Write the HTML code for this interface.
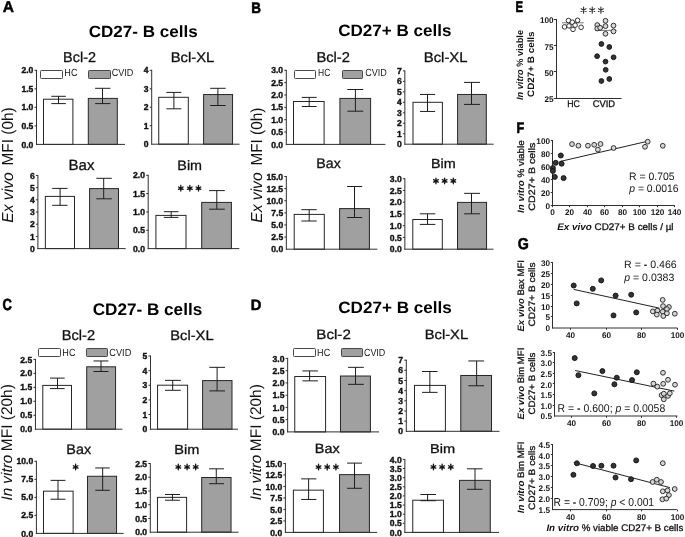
<!DOCTYPE html>
<html><head><meta charset="utf-8"><style>
html,body{margin:0;padding:0;background:#fff;width:685px;height:537px;overflow:hidden;font-family:"Liberation Sans", sans-serif;}
</style></head><body>
<svg width="685" height="537" viewBox="0 0 685 537" style="display:block;will-change:transform;text-rendering:geometricPrecision;font-family:'Liberation Sans', sans-serif">
<rect width="685" height="537" fill="#fff"/>
<text x="2.71" y="12.40" font-size="15.65" fill="#000" textLength="11.21" lengthAdjust="spacingAndGlyphs"><tspan font-weight="bold" font-style="normal" stroke="#000" stroke-width="0.45">A</tspan></text>
<text x="88.72" y="36.80" font-size="16.28" fill="#000" textLength="109.09" lengthAdjust="spacingAndGlyphs"><tspan font-weight="bold" font-style="normal">CD27-&#160;B&#160;cells</tspan></text>
<text transform="translate(13.00,222.77) rotate(-90)" x="0" y="0" font-size="15.94" fill="#111" textLength="50.43" lengthAdjust="spacingAndGlyphs"><tspan font-weight="normal" font-style="italic">Ex&#160;vivo</tspan></text>
<text transform="translate(13.00,165.46) rotate(-90)" x="0" y="0" font-size="15.94" fill="#111" textLength="58.07" lengthAdjust="spacingAndGlyphs"><tspan font-weight="normal" font-style="normal">MFI&#160;(0h)</tspan></text>
<rect x="40.50" y="70.50" width="22.00" height="8.00" rx="0.8" fill="#fff" stroke="#484848" stroke-width="1"/>
<rect x="88.50" y="70.50" width="22.00" height="8.00" rx="0.8" fill="#a0a0a0" stroke="#484848" stroke-width="1"/>
<text x="64.37" y="76.30" font-size="10.30" fill="#1a1a1a" textLength="13.13" lengthAdjust="spacingAndGlyphs"><tspan font-weight="normal" font-style="normal">HC</tspan></text>
<text x="111.65" y="76.30" font-size="10.30" fill="#1a1a1a" textLength="21.70" lengthAdjust="spacingAndGlyphs"><tspan font-weight="normal" font-style="normal">CVID</tspan></text>
<text transform="translate(33.30,147.50) scale(0.985,1)" font-size="8.7" font-weight="bold" text-anchor="end" fill="#111" stroke="#111" stroke-width="0.4">0.0</text>
<line x1="34.50" y1="125.88" x2="36.50" y2="125.88" stroke="#303030" stroke-width="1"/>
<text transform="translate(33.30,128.97) scale(0.985,1)" font-size="8.7" font-weight="bold" text-anchor="end" fill="#111" stroke="#111" stroke-width="0.4">0.5</text>
<line x1="34.50" y1="107.35" x2="36.50" y2="107.35" stroke="#303030" stroke-width="1"/>
<text transform="translate(33.30,110.45) scale(0.985,1)" font-size="8.7" font-weight="bold" text-anchor="end" fill="#111" stroke="#111" stroke-width="0.4">1.0</text>
<line x1="34.50" y1="88.83" x2="36.50" y2="88.83" stroke="#303030" stroke-width="1"/>
<text transform="translate(33.30,91.92) scale(0.985,1)" font-size="8.7" font-weight="bold" text-anchor="end" fill="#111" stroke="#111" stroke-width="0.4">1.5</text>
<line x1="34.50" y1="70.30" x2="36.50" y2="70.30" stroke="#303030" stroke-width="1"/>
<text transform="translate(33.30,73.40) scale(0.985,1)" font-size="8.7" font-weight="bold" text-anchor="end" fill="#111" stroke="#111" stroke-width="0.4">2.0</text>
<line x1="36.50" y1="69.80" x2="36.50" y2="144.90" stroke="#303030" stroke-width="1"/>
<rect x="43.50" y="99.20" width="29.40" height="45.20" fill="#ffffff" stroke="#262626" stroke-width="1"/>
<line x1="58.50" y1="96.30" x2="58.50" y2="103.60" stroke="#1e1e1e" stroke-width="1"/>
<line x1="51.30" y1="96.30" x2="65.90" y2="96.30" stroke="#1e1e1e" stroke-width="1"/>
<line x1="51.30" y1="103.60" x2="65.90" y2="103.60" stroke="#1e1e1e" stroke-width="1"/>
<rect x="88.30" y="98.40" width="29.00" height="46.00" fill="#a0a0a0" stroke="#262626" stroke-width="1"/>
<line x1="102.50" y1="88.30" x2="102.50" y2="103.60" stroke="#1e1e1e" stroke-width="1"/>
<line x1="95.10" y1="88.30" x2="110.40" y2="88.30" stroke="#1e1e1e" stroke-width="1"/>
<line x1="95.10" y1="103.60" x2="110.40" y2="103.60" stroke="#1e1e1e" stroke-width="1"/>
<line x1="36.00" y1="144.40" x2="125.00" y2="144.40" stroke="#303030" stroke-width="1"/>
<text x="63.14" y="62.40" font-size="14.21" fill="#111" textLength="32.93" lengthAdjust="spacingAndGlyphs"><tspan font-weight="normal" font-style="normal" stroke="#111" stroke-width="0.3">Bcl-2</tspan></text>
<text transform="translate(148.50,147.30) scale(0.985,1)" font-size="8.7" font-weight="bold" text-anchor="end" fill="#111" stroke="#111" stroke-width="0.4">0</text>
<line x1="149.70" y1="125.72" x2="151.70" y2="125.72" stroke="#303030" stroke-width="1"/>
<text transform="translate(148.50,128.82) scale(0.985,1)" font-size="8.7" font-weight="bold" text-anchor="end" fill="#111" stroke="#111" stroke-width="0.4">1</text>
<line x1="149.70" y1="107.25" x2="151.70" y2="107.25" stroke="#303030" stroke-width="1"/>
<text transform="translate(148.50,110.35) scale(0.985,1)" font-size="8.7" font-weight="bold" text-anchor="end" fill="#111" stroke="#111" stroke-width="0.4">2</text>
<line x1="149.70" y1="88.77" x2="151.70" y2="88.77" stroke="#303030" stroke-width="1"/>
<text transform="translate(148.50,91.87) scale(0.985,1)" font-size="8.7" font-weight="bold" text-anchor="end" fill="#111" stroke="#111" stroke-width="0.4">3</text>
<line x1="149.70" y1="70.30" x2="151.70" y2="70.30" stroke="#303030" stroke-width="1"/>
<text transform="translate(148.50,73.40) scale(0.985,1)" font-size="8.7" font-weight="bold" text-anchor="end" fill="#111" stroke="#111" stroke-width="0.4">4</text>
<line x1="151.70" y1="69.80" x2="151.70" y2="144.70" stroke="#303030" stroke-width="1"/>
<rect x="158.75" y="97.30" width="29.55" height="46.90" fill="#ffffff" stroke="#262626" stroke-width="1"/>
<line x1="173.90" y1="92.40" x2="173.90" y2="108.80" stroke="#1e1e1e" stroke-width="1"/>
<line x1="166.40" y1="92.40" x2="181.30" y2="92.40" stroke="#1e1e1e" stroke-width="1"/>
<line x1="166.40" y1="108.80" x2="181.30" y2="108.80" stroke="#1e1e1e" stroke-width="1"/>
<rect x="203.60" y="94.55" width="28.95" height="49.65" fill="#a0a0a0" stroke="#262626" stroke-width="1"/>
<line x1="217.90" y1="88.30" x2="217.90" y2="105.50" stroke="#1e1e1e" stroke-width="1"/>
<line x1="210.20" y1="88.30" x2="225.70" y2="88.30" stroke="#1e1e1e" stroke-width="1"/>
<line x1="210.20" y1="105.50" x2="225.70" y2="105.50" stroke="#1e1e1e" stroke-width="1"/>
<line x1="151.20" y1="144.20" x2="239.50" y2="144.20" stroke="#303030" stroke-width="1"/>
<text x="170.71" y="62.40" font-size="13.79" fill="#111" textLength="43.64" lengthAdjust="spacingAndGlyphs"><tspan font-weight="normal" font-style="normal" stroke="#111" stroke-width="0.3">Bcl-XL</tspan></text>
<text transform="translate(34.70,251.70) scale(0.985,1)" font-size="8.7" font-weight="bold" text-anchor="end" fill="#111" stroke="#111" stroke-width="0.4">0</text>
<line x1="35.90" y1="236.40" x2="37.90" y2="236.40" stroke="#303030" stroke-width="1"/>
<text transform="translate(34.70,239.50) scale(0.985,1)" font-size="8.7" font-weight="bold" text-anchor="end" fill="#111" stroke="#111" stroke-width="0.4">1</text>
<line x1="35.90" y1="224.20" x2="37.90" y2="224.20" stroke="#303030" stroke-width="1"/>
<text transform="translate(34.70,227.30) scale(0.985,1)" font-size="8.7" font-weight="bold" text-anchor="end" fill="#111" stroke="#111" stroke-width="0.4">2</text>
<line x1="35.90" y1="212.00" x2="37.90" y2="212.00" stroke="#303030" stroke-width="1"/>
<text transform="translate(34.70,215.10) scale(0.985,1)" font-size="8.7" font-weight="bold" text-anchor="end" fill="#111" stroke="#111" stroke-width="0.4">3</text>
<line x1="35.90" y1="199.80" x2="37.90" y2="199.80" stroke="#303030" stroke-width="1"/>
<text transform="translate(34.70,202.90) scale(0.985,1)" font-size="8.7" font-weight="bold" text-anchor="end" fill="#111" stroke="#111" stroke-width="0.4">4</text>
<line x1="35.90" y1="187.60" x2="37.90" y2="187.60" stroke="#303030" stroke-width="1"/>
<text transform="translate(34.70,190.70) scale(0.985,1)" font-size="8.7" font-weight="bold" text-anchor="end" fill="#111" stroke="#111" stroke-width="0.4">5</text>
<line x1="35.90" y1="175.40" x2="37.90" y2="175.40" stroke="#303030" stroke-width="1"/>
<text transform="translate(34.70,178.50) scale(0.985,1)" font-size="8.7" font-weight="bold" text-anchor="end" fill="#111" stroke="#111" stroke-width="0.4">6</text>
<line x1="37.90" y1="174.90" x2="37.90" y2="249.10" stroke="#303030" stroke-width="1"/>
<rect x="45.35" y="196.40" width="29.15" height="52.20" fill="#ffffff" stroke="#262626" stroke-width="1"/>
<line x1="60.10" y1="188.40" x2="60.10" y2="205.30" stroke="#1e1e1e" stroke-width="1"/>
<line x1="52.20" y1="188.40" x2="67.50" y2="188.40" stroke="#1e1e1e" stroke-width="1"/>
<line x1="52.20" y1="205.30" x2="67.50" y2="205.30" stroke="#1e1e1e" stroke-width="1"/>
<rect x="89.60" y="188.60" width="28.90" height="60.00" fill="#a0a0a0" stroke="#262626" stroke-width="1"/>
<line x1="103.70" y1="178.30" x2="103.70" y2="198.80" stroke="#1e1e1e" stroke-width="1"/>
<line x1="96.30" y1="178.30" x2="111.80" y2="178.30" stroke="#1e1e1e" stroke-width="1"/>
<line x1="96.30" y1="198.80" x2="111.80" y2="198.80" stroke="#1e1e1e" stroke-width="1"/>
<line x1="37.40" y1="248.60" x2="125.70" y2="248.60" stroke="#303030" stroke-width="1"/>
<text x="68.50" y="169.60" font-size="14.78" fill="#111" textLength="25.93" lengthAdjust="spacingAndGlyphs"><tspan font-weight="normal" font-style="normal" stroke="#111" stroke-width="0.3">Bax</tspan></text>
<text transform="translate(145.00,251.70) scale(0.985,1)" font-size="8.7" font-weight="bold" text-anchor="end" fill="#111" stroke="#111" stroke-width="0.4">0.0</text>
<line x1="146.20" y1="230.28" x2="148.20" y2="230.28" stroke="#303030" stroke-width="1"/>
<text transform="translate(145.00,233.38) scale(0.985,1)" font-size="8.7" font-weight="bold" text-anchor="end" fill="#111" stroke="#111" stroke-width="0.4">0.5</text>
<line x1="146.20" y1="211.95" x2="148.20" y2="211.95" stroke="#303030" stroke-width="1"/>
<text transform="translate(145.00,215.05) scale(0.985,1)" font-size="8.7" font-weight="bold" text-anchor="end" fill="#111" stroke="#111" stroke-width="0.4">1.0</text>
<line x1="146.20" y1="193.62" x2="148.20" y2="193.62" stroke="#303030" stroke-width="1"/>
<text transform="translate(145.00,196.72) scale(0.985,1)" font-size="8.7" font-weight="bold" text-anchor="end" fill="#111" stroke="#111" stroke-width="0.4">1.5</text>
<line x1="146.20" y1="175.30" x2="148.20" y2="175.30" stroke="#303030" stroke-width="1"/>
<text transform="translate(145.00,178.40) scale(0.985,1)" font-size="8.7" font-weight="bold" text-anchor="end" fill="#111" stroke="#111" stroke-width="0.4">2.0</text>
<line x1="148.20" y1="174.80" x2="148.20" y2="249.10" stroke="#303030" stroke-width="1"/>
<rect x="155.90" y="215.40" width="30.10" height="33.20" fill="#ffffff" stroke="#262626" stroke-width="1"/>
<line x1="171.20" y1="211.70" x2="171.20" y2="217.40" stroke="#1e1e1e" stroke-width="1"/>
<line x1="163.80" y1="211.70" x2="178.40" y2="211.70" stroke="#1e1e1e" stroke-width="1"/>
<line x1="163.80" y1="217.40" x2="178.40" y2="217.40" stroke="#1e1e1e" stroke-width="1"/>
<rect x="201.70" y="202.40" width="29.70" height="46.20" fill="#a0a0a0" stroke="#262626" stroke-width="1"/>
<line x1="216.80" y1="190.60" x2="216.80" y2="209.20" stroke="#1e1e1e" stroke-width="1"/>
<line x1="209.10" y1="190.60" x2="224.80" y2="190.60" stroke="#1e1e1e" stroke-width="1"/>
<line x1="209.10" y1="209.20" x2="224.80" y2="209.20" stroke="#1e1e1e" stroke-width="1"/>
<line x1="147.70" y1="248.60" x2="239.30" y2="248.60" stroke="#303030" stroke-width="1"/>
<text x="177.35" y="169.60" font-size="13.66" fill="#111" textLength="24.71" lengthAdjust="spacingAndGlyphs"><tspan font-weight="normal" font-style="normal" stroke="#111" stroke-width="0.3">Bim</tspan></text>
<path d="M180.80,185.35L180.80,191.05M178.48,186.97L183.12,189.43M183.12,186.97L178.48,189.43" stroke="#151515" stroke-width="1.3" stroke-linecap="round" fill="none"/>
<path d="M189.85,185.35L189.85,191.05M187.53,186.97L192.17,189.43M192.17,186.97L187.53,189.43" stroke="#151515" stroke-width="1.3" stroke-linecap="round" fill="none"/>
<path d="M198.50,185.35L198.50,191.05M196.18,186.97L200.82,189.43M200.82,186.97L196.18,189.43" stroke="#151515" stroke-width="1.3" stroke-linecap="round" fill="none"/>
<text transform="translate(251.33,12.55) scale(1,1.132)" font-size="13.44" font-weight="bold" font-style="normal" fill="#000" stroke="#000" stroke-width="0.5">B</text>
<text x="338.22" y="35.90" font-size="16.41" fill="#000" textLength="113.21" lengthAdjust="spacingAndGlyphs"><tspan font-weight="bold" font-style="normal">CD27+&#160;B&#160;cells</tspan></text>
<text transform="translate(262.07,222.77) rotate(-90)" x="0" y="0" font-size="15.94" fill="#111" textLength="50.39" lengthAdjust="spacingAndGlyphs"><tspan font-weight="normal" font-style="italic">Ex&#160;vivo</tspan></text>
<text transform="translate(262.07,165.53) rotate(-90)" x="0" y="0" font-size="15.94" fill="#111" textLength="57.89" lengthAdjust="spacingAndGlyphs"><tspan font-weight="normal" font-style="normal">MFI&#160;(0h)</tspan></text>
<rect x="294.50" y="70.50" width="21.00" height="8.00" rx="0.8" fill="#fff" stroke="#484848" stroke-width="1"/>
<rect x="342.50" y="70.50" width="20.00" height="8.00" rx="0.8" fill="#a0a0a0" stroke="#484848" stroke-width="1"/>
<text x="318.02" y="76.30" font-size="10.30" fill="#1a1a1a" textLength="12.26" lengthAdjust="spacingAndGlyphs"><tspan font-weight="normal" font-style="normal">HC</tspan></text>
<text x="365.25" y="76.30" font-size="10.30" fill="#1a1a1a" textLength="21.60" lengthAdjust="spacingAndGlyphs"><tspan font-weight="normal" font-style="normal">CVID</tspan></text>
<text transform="translate(283.10,147.50) scale(0.985,1)" font-size="8.7" font-weight="bold" text-anchor="end" fill="#111" stroke="#111" stroke-width="0.4">0.0</text>
<line x1="284.30" y1="132.05" x2="286.30" y2="132.05" stroke="#303030" stroke-width="1"/>
<text transform="translate(283.10,135.15) scale(0.985,1)" font-size="8.7" font-weight="bold" text-anchor="end" fill="#111" stroke="#111" stroke-width="0.4">0.5</text>
<line x1="284.30" y1="119.70" x2="286.30" y2="119.70" stroke="#303030" stroke-width="1"/>
<text transform="translate(283.10,122.80) scale(0.985,1)" font-size="8.7" font-weight="bold" text-anchor="end" fill="#111" stroke="#111" stroke-width="0.4">1.0</text>
<line x1="284.30" y1="107.35" x2="286.30" y2="107.35" stroke="#303030" stroke-width="1"/>
<text transform="translate(283.10,110.45) scale(0.985,1)" font-size="8.7" font-weight="bold" text-anchor="end" fill="#111" stroke="#111" stroke-width="0.4">1.5</text>
<line x1="284.30" y1="95.00" x2="286.30" y2="95.00" stroke="#303030" stroke-width="1"/>
<text transform="translate(283.10,98.10) scale(0.985,1)" font-size="8.7" font-weight="bold" text-anchor="end" fill="#111" stroke="#111" stroke-width="0.4">2.0</text>
<line x1="284.30" y1="82.65" x2="286.30" y2="82.65" stroke="#303030" stroke-width="1"/>
<text transform="translate(283.10,85.75) scale(0.985,1)" font-size="8.7" font-weight="bold" text-anchor="end" fill="#111" stroke="#111" stroke-width="0.4">2.5</text>
<line x1="284.30" y1="70.30" x2="286.30" y2="70.30" stroke="#303030" stroke-width="1"/>
<text transform="translate(283.10,73.40) scale(0.985,1)" font-size="8.7" font-weight="bold" text-anchor="end" fill="#111" stroke="#111" stroke-width="0.4">3.0</text>
<line x1="286.30" y1="69.80" x2="286.30" y2="144.90" stroke="#303030" stroke-width="1"/>
<rect x="293.50" y="101.50" width="30.60" height="42.90" fill="#ffffff" stroke="#262626" stroke-width="1"/>
<line x1="309.20" y1="97.40" x2="309.20" y2="106.50" stroke="#1e1e1e" stroke-width="1"/>
<line x1="301.80" y1="97.40" x2="316.70" y2="97.40" stroke="#1e1e1e" stroke-width="1"/>
<line x1="301.80" y1="106.50" x2="316.70" y2="106.50" stroke="#1e1e1e" stroke-width="1"/>
<rect x="339.90" y="98.40" width="30.70" height="46.00" fill="#a0a0a0" stroke="#262626" stroke-width="1"/>
<line x1="355.40" y1="89.50" x2="355.40" y2="111.20" stroke="#1e1e1e" stroke-width="1"/>
<line x1="347.30" y1="89.50" x2="363.20" y2="89.50" stroke="#1e1e1e" stroke-width="1"/>
<line x1="347.30" y1="111.20" x2="363.20" y2="111.20" stroke="#1e1e1e" stroke-width="1"/>
<line x1="285.80" y1="144.40" x2="385.40" y2="144.40" stroke="#303030" stroke-width="1"/>
<text x="316.42" y="62.40" font-size="14.21" fill="#111" textLength="33.57" lengthAdjust="spacingAndGlyphs"><tspan font-weight="normal" font-style="normal" stroke="#111" stroke-width="0.3">Bcl-2</tspan></text>
<text transform="translate(401.65,147.30) scale(0.985,1)" font-size="8.7" font-weight="bold" text-anchor="end" fill="#111" stroke="#111" stroke-width="0.4">0</text>
<line x1="402.85" y1="133.73" x2="404.85" y2="133.73" stroke="#303030" stroke-width="1"/>
<text transform="translate(401.65,136.83) scale(0.985,1)" font-size="8.7" font-weight="bold" text-anchor="end" fill="#111" stroke="#111" stroke-width="0.4">1</text>
<line x1="402.85" y1="123.26" x2="404.85" y2="123.26" stroke="#303030" stroke-width="1"/>
<text transform="translate(401.65,126.36) scale(0.985,1)" font-size="8.7" font-weight="bold" text-anchor="end" fill="#111" stroke="#111" stroke-width="0.4">2</text>
<line x1="402.85" y1="112.79" x2="404.85" y2="112.79" stroke="#303030" stroke-width="1"/>
<text transform="translate(401.65,115.89) scale(0.985,1)" font-size="8.7" font-weight="bold" text-anchor="end" fill="#111" stroke="#111" stroke-width="0.4">3</text>
<line x1="402.85" y1="102.31" x2="404.85" y2="102.31" stroke="#303030" stroke-width="1"/>
<text transform="translate(401.65,105.41) scale(0.985,1)" font-size="8.7" font-weight="bold" text-anchor="end" fill="#111" stroke="#111" stroke-width="0.4">4</text>
<line x1="402.85" y1="91.84" x2="404.85" y2="91.84" stroke="#303030" stroke-width="1"/>
<text transform="translate(401.65,94.94) scale(0.985,1)" font-size="8.7" font-weight="bold" text-anchor="end" fill="#111" stroke="#111" stroke-width="0.4">5</text>
<line x1="402.85" y1="81.37" x2="404.85" y2="81.37" stroke="#303030" stroke-width="1"/>
<text transform="translate(401.65,84.47) scale(0.985,1)" font-size="8.7" font-weight="bold" text-anchor="end" fill="#111" stroke="#111" stroke-width="0.4">6</text>
<line x1="402.85" y1="70.90" x2="404.85" y2="70.90" stroke="#303030" stroke-width="1"/>
<text transform="translate(401.65,74.00) scale(0.985,1)" font-size="8.7" font-weight="bold" text-anchor="end" fill="#111" stroke="#111" stroke-width="0.4">7</text>
<line x1="404.85" y1="70.40" x2="404.85" y2="144.70" stroke="#303030" stroke-width="1"/>
<rect x="413.00" y="102.30" width="29.40" height="41.90" fill="#ffffff" stroke="#262626" stroke-width="1"/>
<line x1="427.50" y1="94.45" x2="427.50" y2="111.45" stroke="#1e1e1e" stroke-width="1"/>
<line x1="420.00" y1="94.45" x2="435.10" y2="94.45" stroke="#1e1e1e" stroke-width="1"/>
<line x1="420.00" y1="111.45" x2="435.10" y2="111.45" stroke="#1e1e1e" stroke-width="1"/>
<rect x="457.60" y="94.45" width="28.70" height="49.75" fill="#a0a0a0" stroke="#262626" stroke-width="1"/>
<line x1="471.50" y1="82.40" x2="471.50" y2="104.40" stroke="#1e1e1e" stroke-width="1"/>
<line x1="464.00" y1="82.40" x2="480.00" y2="82.40" stroke="#1e1e1e" stroke-width="1"/>
<line x1="464.00" y1="104.40" x2="480.00" y2="104.40" stroke="#1e1e1e" stroke-width="1"/>
<line x1="404.35" y1="144.20" x2="493.70" y2="144.20" stroke="#303030" stroke-width="1"/>
<text x="423.71" y="62.40" font-size="13.79" fill="#111" textLength="43.84" lengthAdjust="spacingAndGlyphs"><tspan font-weight="normal" font-style="normal" stroke="#111" stroke-width="0.3">Bcl-XL</tspan></text>
<text transform="translate(283.14,252.30) scale(0.985,1)" font-size="8.7" font-weight="bold" text-anchor="end" fill="#111" stroke="#111" stroke-width="0.4">0.0</text>
<line x1="284.34" y1="237.08" x2="286.34" y2="237.08" stroke="#303030" stroke-width="1"/>
<text transform="translate(283.14,240.18) scale(0.985,1)" font-size="8.7" font-weight="bold" text-anchor="end" fill="#111" stroke="#111" stroke-width="0.4">2.5</text>
<line x1="284.34" y1="224.97" x2="286.34" y2="224.97" stroke="#303030" stroke-width="1"/>
<text transform="translate(283.14,228.07) scale(0.985,1)" font-size="8.7" font-weight="bold" text-anchor="end" fill="#111" stroke="#111" stroke-width="0.4">5.0</text>
<line x1="284.34" y1="212.85" x2="286.34" y2="212.85" stroke="#303030" stroke-width="1"/>
<text transform="translate(283.14,215.95) scale(0.985,1)" font-size="8.7" font-weight="bold" text-anchor="end" fill="#111" stroke="#111" stroke-width="0.4">7.5</text>
<line x1="284.34" y1="200.73" x2="286.34" y2="200.73" stroke="#303030" stroke-width="1"/>
<text transform="translate(283.14,203.83) scale(0.985,1)" font-size="8.7" font-weight="bold" text-anchor="end" fill="#111" stroke="#111" stroke-width="0.4">10.0</text>
<line x1="284.34" y1="188.62" x2="286.34" y2="188.62" stroke="#303030" stroke-width="1"/>
<text transform="translate(283.14,191.72) scale(0.985,1)" font-size="8.7" font-weight="bold" text-anchor="end" fill="#111" stroke="#111" stroke-width="0.4">12.5</text>
<line x1="284.34" y1="176.50" x2="286.34" y2="176.50" stroke="#303030" stroke-width="1"/>
<text transform="translate(283.14,179.60) scale(0.985,1)" font-size="8.7" font-weight="bold" text-anchor="end" fill="#111" stroke="#111" stroke-width="0.4">15.0</text>
<line x1="286.34" y1="176.00" x2="286.34" y2="249.70" stroke="#303030" stroke-width="1"/>
<rect x="294.20" y="214.40" width="30.10" height="34.80" fill="#ffffff" stroke="#262626" stroke-width="1"/>
<line x1="309.20" y1="209.70" x2="309.20" y2="221.00" stroke="#1e1e1e" stroke-width="1"/>
<line x1="301.40" y1="209.70" x2="316.70" y2="209.70" stroke="#1e1e1e" stroke-width="1"/>
<line x1="301.40" y1="221.00" x2="316.70" y2="221.00" stroke="#1e1e1e" stroke-width="1"/>
<rect x="339.60" y="208.60" width="29.80" height="40.60" fill="#a0a0a0" stroke="#262626" stroke-width="1"/>
<line x1="354.50" y1="186.50" x2="354.50" y2="217.50" stroke="#1e1e1e" stroke-width="1"/>
<line x1="347.10" y1="186.50" x2="362.20" y2="186.50" stroke="#1e1e1e" stroke-width="1"/>
<line x1="347.10" y1="217.50" x2="362.20" y2="217.50" stroke="#1e1e1e" stroke-width="1"/>
<line x1="285.84" y1="249.20" x2="377.40" y2="249.20" stroke="#303030" stroke-width="1"/>
<text x="316.36" y="168.10" font-size="13.91" fill="#111" textLength="24.45" lengthAdjust="spacingAndGlyphs"><tspan font-weight="normal" font-style="normal" stroke="#111" stroke-width="0.3">Bax</tspan></text>
<text transform="translate(401.65,252.30) scale(0.985,1)" font-size="8.7" font-weight="bold" text-anchor="end" fill="#111" stroke="#111" stroke-width="0.4">0.0</text>
<line x1="402.85" y1="237.45" x2="404.85" y2="237.45" stroke="#303030" stroke-width="1"/>
<text transform="translate(401.65,240.55) scale(0.985,1)" font-size="8.7" font-weight="bold" text-anchor="end" fill="#111" stroke="#111" stroke-width="0.4">0.5</text>
<line x1="402.85" y1="225.70" x2="404.85" y2="225.70" stroke="#303030" stroke-width="1"/>
<text transform="translate(401.65,228.80) scale(0.985,1)" font-size="8.7" font-weight="bold" text-anchor="end" fill="#111" stroke="#111" stroke-width="0.4">1.0</text>
<line x1="402.85" y1="213.95" x2="404.85" y2="213.95" stroke="#303030" stroke-width="1"/>
<text transform="translate(401.65,217.05) scale(0.985,1)" font-size="8.7" font-weight="bold" text-anchor="end" fill="#111" stroke="#111" stroke-width="0.4">1.5</text>
<line x1="402.85" y1="202.20" x2="404.85" y2="202.20" stroke="#303030" stroke-width="1"/>
<text transform="translate(401.65,205.30) scale(0.985,1)" font-size="8.7" font-weight="bold" text-anchor="end" fill="#111" stroke="#111" stroke-width="0.4">2.0</text>
<line x1="402.85" y1="190.45" x2="404.85" y2="190.45" stroke="#303030" stroke-width="1"/>
<text transform="translate(401.65,193.55) scale(0.985,1)" font-size="8.7" font-weight="bold" text-anchor="end" fill="#111" stroke="#111" stroke-width="0.4">2.5</text>
<line x1="402.85" y1="178.70" x2="404.85" y2="178.70" stroke="#303030" stroke-width="1"/>
<text transform="translate(401.65,181.80) scale(0.985,1)" font-size="8.7" font-weight="bold" text-anchor="end" fill="#111" stroke="#111" stroke-width="0.4">3.0</text>
<line x1="404.85" y1="178.20" x2="404.85" y2="249.70" stroke="#303030" stroke-width="1"/>
<rect x="412.80" y="219.50" width="29.50" height="29.70" fill="#ffffff" stroke="#262626" stroke-width="1"/>
<line x1="427.50" y1="213.80" x2="427.50" y2="224.40" stroke="#1e1e1e" stroke-width="1"/>
<line x1="419.80" y1="213.80" x2="435.30" y2="213.80" stroke="#1e1e1e" stroke-width="1"/>
<line x1="419.80" y1="224.40" x2="435.30" y2="224.40" stroke="#1e1e1e" stroke-width="1"/>
<rect x="457.50" y="202.40" width="29.05" height="46.80" fill="#a0a0a0" stroke="#262626" stroke-width="1"/>
<line x1="471.50" y1="193.35" x2="471.50" y2="213.80" stroke="#1e1e1e" stroke-width="1"/>
<line x1="464.10" y1="193.35" x2="480.00" y2="193.35" stroke="#1e1e1e" stroke-width="1"/>
<line x1="464.10" y1="213.80" x2="480.00" y2="213.80" stroke="#1e1e1e" stroke-width="1"/>
<line x1="404.35" y1="249.20" x2="493.50" y2="249.20" stroke="#303030" stroke-width="1"/>
<text x="430.95" y="168.10" font-size="13.24" fill="#111" textLength="24.71" lengthAdjust="spacingAndGlyphs"><tspan font-weight="normal" font-style="normal" stroke="#111" stroke-width="0.3">Bim</tspan></text>
<path d="M435.94,178.05L435.94,183.75M433.62,179.67L438.26,182.13M438.26,179.67L433.62,182.13" stroke="#151515" stroke-width="1.3" stroke-linecap="round" fill="none"/>
<path d="M444.63,178.05L444.63,183.75M442.31,179.67L446.95,182.13M446.95,179.67L442.31,182.13" stroke="#151515" stroke-width="1.3" stroke-linecap="round" fill="none"/>
<path d="M453.31,178.05L453.31,183.75M450.99,179.67L455.63,182.13M455.63,179.67L450.99,182.13" stroke="#151515" stroke-width="1.3" stroke-linecap="round" fill="none"/>
<text transform="translate(2.38,310.35) scale(1,1.244)" font-size="12.98" font-weight="bold" font-style="normal" fill="#000" stroke="#000" stroke-width="0.5">C</text>
<text x="92.71" y="314.60" font-size="16.69" fill="#000" textLength="109.50" lengthAdjust="spacingAndGlyphs"><tspan font-weight="bold" font-style="normal">CD27-&#160;B&#160;cells</tspan></text>
<text transform="translate(11.95,500.61) rotate(-90)" x="0" y="0" font-size="15.43" fill="#111" textLength="45.84" lengthAdjust="spacingAndGlyphs"><tspan font-weight="normal" font-style="italic">In&#160;vitro</tspan></text>
<text transform="translate(11.95,451.14) rotate(-90)" x="0" y="0" font-size="15.43" fill="#111" textLength="66.93" lengthAdjust="spacingAndGlyphs"><tspan font-weight="normal" font-style="normal">MFI&#160;(20h)</tspan></text>
<rect x="38.50" y="348.50" width="22.00" height="8.00" rx="0.8" fill="#fff" stroke="#484848" stroke-width="1"/>
<rect x="86.50" y="348.50" width="21.00" height="8.00" rx="0.8" fill="#a0a0a0" stroke="#484848" stroke-width="1"/>
<text x="62.37" y="355.60" font-size="10.30" fill="#1a1a1a" textLength="13.13" lengthAdjust="spacingAndGlyphs"><tspan font-weight="normal" font-style="normal">HC</tspan></text>
<text x="109.34" y="355.60" font-size="10.30" fill="#1a1a1a" textLength="22.01" lengthAdjust="spacingAndGlyphs"><tspan font-weight="normal" font-style="normal">CVID</tspan></text>
<text transform="translate(32.25,432.30) scale(0.985,1)" font-size="8.7" font-weight="bold" text-anchor="end" fill="#111" stroke="#111" stroke-width="0.4">0.0</text>
<line x1="33.45" y1="415.24" x2="35.45" y2="415.24" stroke="#303030" stroke-width="1"/>
<text transform="translate(32.25,418.34) scale(0.985,1)" font-size="8.7" font-weight="bold" text-anchor="end" fill="#111" stroke="#111" stroke-width="0.4">0.5</text>
<line x1="33.45" y1="401.28" x2="35.45" y2="401.28" stroke="#303030" stroke-width="1"/>
<text transform="translate(32.25,404.38) scale(0.985,1)" font-size="8.7" font-weight="bold" text-anchor="end" fill="#111" stroke="#111" stroke-width="0.4">1.0</text>
<line x1="33.45" y1="387.32" x2="35.45" y2="387.32" stroke="#303030" stroke-width="1"/>
<text transform="translate(32.25,390.42) scale(0.985,1)" font-size="8.7" font-weight="bold" text-anchor="end" fill="#111" stroke="#111" stroke-width="0.4">1.5</text>
<line x1="33.45" y1="373.36" x2="35.45" y2="373.36" stroke="#303030" stroke-width="1"/>
<text transform="translate(32.25,376.46) scale(0.985,1)" font-size="8.7" font-weight="bold" text-anchor="end" fill="#111" stroke="#111" stroke-width="0.4">2.0</text>
<line x1="33.45" y1="359.40" x2="35.45" y2="359.40" stroke="#303030" stroke-width="1"/>
<text transform="translate(32.25,362.50) scale(0.985,1)" font-size="8.7" font-weight="bold" text-anchor="end" fill="#111" stroke="#111" stroke-width="0.4">2.5</text>
<line x1="35.45" y1="358.90" x2="35.45" y2="429.70" stroke="#303030" stroke-width="1"/>
<rect x="42.80" y="385.40" width="28.70" height="43.80" fill="#ffffff" stroke="#262626" stroke-width="1"/>
<line x1="57.50" y1="378.10" x2="57.50" y2="388.60" stroke="#1e1e1e" stroke-width="1"/>
<line x1="50.00" y1="378.10" x2="64.70" y2="378.10" stroke="#1e1e1e" stroke-width="1"/>
<line x1="50.00" y1="388.60" x2="64.70" y2="388.60" stroke="#1e1e1e" stroke-width="1"/>
<rect x="86.70" y="366.80" width="28.85" height="62.40" fill="#a0a0a0" stroke="#262626" stroke-width="1"/>
<line x1="101.00" y1="360.96" x2="101.00" y2="371.50" stroke="#1e1e1e" stroke-width="1"/>
<line x1="93.50" y1="360.96" x2="108.40" y2="360.96" stroke="#1e1e1e" stroke-width="1"/>
<line x1="93.50" y1="371.50" x2="108.40" y2="371.50" stroke="#1e1e1e" stroke-width="1"/>
<line x1="34.95" y1="429.20" x2="122.40" y2="429.20" stroke="#303030" stroke-width="1"/>
<text x="61.83" y="339.60" font-size="14.21" fill="#111" textLength="33.25" lengthAdjust="spacingAndGlyphs"><tspan font-weight="normal" font-style="normal" stroke="#111" stroke-width="0.3">Bcl-2</tspan></text>
<text transform="translate(147.27,432.30) scale(0.985,1)" font-size="8.7" font-weight="bold" text-anchor="end" fill="#111" stroke="#111" stroke-width="0.4">0</text>
<line x1="148.47" y1="414.56" x2="150.47" y2="414.56" stroke="#303030" stroke-width="1"/>
<text transform="translate(147.27,417.66) scale(0.985,1)" font-size="8.7" font-weight="bold" text-anchor="end" fill="#111" stroke="#111" stroke-width="0.4">1</text>
<line x1="148.47" y1="399.92" x2="150.47" y2="399.92" stroke="#303030" stroke-width="1"/>
<text transform="translate(147.27,403.02) scale(0.985,1)" font-size="8.7" font-weight="bold" text-anchor="end" fill="#111" stroke="#111" stroke-width="0.4">2</text>
<line x1="148.47" y1="385.28" x2="150.47" y2="385.28" stroke="#303030" stroke-width="1"/>
<text transform="translate(147.27,388.38) scale(0.985,1)" font-size="8.7" font-weight="bold" text-anchor="end" fill="#111" stroke="#111" stroke-width="0.4">3</text>
<line x1="148.47" y1="370.64" x2="150.47" y2="370.64" stroke="#303030" stroke-width="1"/>
<text transform="translate(147.27,373.74) scale(0.985,1)" font-size="8.7" font-weight="bold" text-anchor="end" fill="#111" stroke="#111" stroke-width="0.4">4</text>
<line x1="148.47" y1="356.00" x2="150.47" y2="356.00" stroke="#303030" stroke-width="1"/>
<text transform="translate(147.27,359.10) scale(0.985,1)" font-size="8.7" font-weight="bold" text-anchor="end" fill="#111" stroke="#111" stroke-width="0.4">5</text>
<line x1="150.47" y1="355.50" x2="150.47" y2="429.70" stroke="#303030" stroke-width="1"/>
<rect x="157.55" y="385.20" width="30.05" height="44.00" fill="#ffffff" stroke="#262626" stroke-width="1"/>
<line x1="172.70" y1="380.36" x2="172.70" y2="390.30" stroke="#1e1e1e" stroke-width="1"/>
<line x1="165.00" y1="380.36" x2="180.80" y2="380.36" stroke="#1e1e1e" stroke-width="1"/>
<line x1="165.00" y1="390.30" x2="180.80" y2="390.30" stroke="#1e1e1e" stroke-width="1"/>
<rect x="202.60" y="380.60" width="29.40" height="48.60" fill="#a0a0a0" stroke="#262626" stroke-width="1"/>
<line x1="217.10" y1="367.34" x2="217.10" y2="390.90" stroke="#1e1e1e" stroke-width="1"/>
<line x1="209.30" y1="367.34" x2="225.00" y2="367.34" stroke="#1e1e1e" stroke-width="1"/>
<line x1="209.30" y1="390.90" x2="225.00" y2="390.90" stroke="#1e1e1e" stroke-width="1"/>
<line x1="149.97" y1="429.20" x2="238.00" y2="429.20" stroke="#303030" stroke-width="1"/>
<text x="170.33" y="339.50" font-size="13.66" fill="#111" textLength="43.22" lengthAdjust="spacingAndGlyphs"><tspan font-weight="normal" font-style="normal" stroke="#111" stroke-width="0.3">Bcl-XL</tspan></text>
<text transform="translate(33.20,536.50) scale(0.985,1)" font-size="8.7" font-weight="bold" text-anchor="end" fill="#111" stroke="#111" stroke-width="0.4">0.0</text>
<line x1="34.40" y1="515.38" x2="36.40" y2="515.38" stroke="#303030" stroke-width="1"/>
<text transform="translate(33.20,518.48) scale(0.985,1)" font-size="8.7" font-weight="bold" text-anchor="end" fill="#111" stroke="#111" stroke-width="0.4">2.5</text>
<line x1="34.40" y1="497.35" x2="36.40" y2="497.35" stroke="#303030" stroke-width="1"/>
<text transform="translate(33.20,500.45) scale(0.985,1)" font-size="8.7" font-weight="bold" text-anchor="end" fill="#111" stroke="#111" stroke-width="0.4">5.0</text>
<line x1="34.40" y1="479.32" x2="36.40" y2="479.32" stroke="#303030" stroke-width="1"/>
<text transform="translate(33.20,482.43) scale(0.985,1)" font-size="8.7" font-weight="bold" text-anchor="end" fill="#111" stroke="#111" stroke-width="0.4">7.5</text>
<line x1="34.40" y1="461.30" x2="36.40" y2="461.30" stroke="#303030" stroke-width="1"/>
<text transform="translate(33.20,464.40) scale(0.985,1)" font-size="8.7" font-weight="bold" text-anchor="end" fill="#111" stroke="#111" stroke-width="0.4">10.0</text>
<line x1="36.40" y1="460.80" x2="36.40" y2="533.90" stroke="#303030" stroke-width="1"/>
<rect x="43.50" y="491.16" width="29.60" height="42.24" fill="#ffffff" stroke="#262626" stroke-width="1"/>
<line x1="58.00" y1="480.36" x2="58.00" y2="499.23" stroke="#1e1e1e" stroke-width="1"/>
<line x1="50.55" y1="480.36" x2="65.44" y2="480.36" stroke="#1e1e1e" stroke-width="1"/>
<line x1="50.55" y1="499.23" x2="65.44" y2="499.23" stroke="#1e1e1e" stroke-width="1"/>
<rect x="87.50" y="476.27" width="29.06" height="57.13" fill="#a0a0a0" stroke="#262626" stroke-width="1"/>
<line x1="102.66" y1="467.96" x2="102.66" y2="490.29" stroke="#1e1e1e" stroke-width="1"/>
<line x1="95.22" y1="467.96" x2="109.74" y2="467.96" stroke="#1e1e1e" stroke-width="1"/>
<line x1="95.22" y1="490.29" x2="109.74" y2="490.29" stroke="#1e1e1e" stroke-width="1"/>
<line x1="35.90" y1="533.40" x2="123.60" y2="533.40" stroke="#303030" stroke-width="1"/>
<text x="66.35" y="453.80" font-size="13.91" fill="#111" textLength="24.77" lengthAdjust="spacingAndGlyphs"><tspan font-weight="normal" font-style="normal" stroke="#111" stroke-width="0.3">Bax</tspan></text>
<text transform="translate(147.10,535.30) scale(0.985,1)" font-size="8.7" font-weight="bold" text-anchor="end" fill="#111" stroke="#111" stroke-width="0.4">0.0</text>
<line x1="148.30" y1="518.46" x2="150.30" y2="518.46" stroke="#303030" stroke-width="1"/>
<text transform="translate(147.10,521.56) scale(0.985,1)" font-size="8.7" font-weight="bold" text-anchor="end" fill="#111" stroke="#111" stroke-width="0.4">0.5</text>
<line x1="148.30" y1="504.72" x2="150.30" y2="504.72" stroke="#303030" stroke-width="1"/>
<text transform="translate(147.10,507.82) scale(0.985,1)" font-size="8.7" font-weight="bold" text-anchor="end" fill="#111" stroke="#111" stroke-width="0.4">1.0</text>
<line x1="148.30" y1="490.98" x2="150.30" y2="490.98" stroke="#303030" stroke-width="1"/>
<text transform="translate(147.10,494.08) scale(0.985,1)" font-size="8.7" font-weight="bold" text-anchor="end" fill="#111" stroke="#111" stroke-width="0.4">1.5</text>
<line x1="148.30" y1="477.24" x2="150.30" y2="477.24" stroke="#303030" stroke-width="1"/>
<text transform="translate(147.10,480.34) scale(0.985,1)" font-size="8.7" font-weight="bold" text-anchor="end" fill="#111" stroke="#111" stroke-width="0.4">2.0</text>
<line x1="148.30" y1="463.50" x2="150.30" y2="463.50" stroke="#303030" stroke-width="1"/>
<text transform="translate(147.10,466.60) scale(0.985,1)" font-size="8.7" font-weight="bold" text-anchor="end" fill="#111" stroke="#111" stroke-width="0.4">2.5</text>
<line x1="150.30" y1="463.00" x2="150.30" y2="532.70" stroke="#303030" stroke-width="1"/>
<rect x="157.45" y="497.36" width="29.15" height="34.84" fill="#ffffff" stroke="#262626" stroke-width="1"/>
<line x1="172.47" y1="494.51" x2="172.47" y2="500.22" stroke="#1e1e1e" stroke-width="1"/>
<line x1="165.03" y1="494.51" x2="179.92" y2="494.51" stroke="#1e1e1e" stroke-width="1"/>
<line x1="165.03" y1="500.22" x2="179.92" y2="500.22" stroke="#1e1e1e" stroke-width="1"/>
<rect x="201.70" y="477.51" width="29.34" height="54.69" fill="#a0a0a0" stroke="#262626" stroke-width="1"/>
<line x1="216.28" y1="468.82" x2="216.28" y2="483.71" stroke="#1e1e1e" stroke-width="1"/>
<line x1="209.08" y1="468.82" x2="223.97" y2="468.82" stroke="#1e1e1e" stroke-width="1"/>
<line x1="209.08" y1="483.71" x2="223.97" y2="483.71" stroke="#1e1e1e" stroke-width="1"/>
<line x1="149.80" y1="532.20" x2="238.60" y2="532.20" stroke="#303030" stroke-width="1"/>
<text x="174.34" y="453.80" font-size="13.24" fill="#111" textLength="25.04" lengthAdjust="spacingAndGlyphs"><tspan font-weight="normal" font-style="normal" stroke="#111" stroke-width="0.3">Bim</tspan></text>
<path d="M75.61,464.11L75.61,469.81M73.29,465.73L77.93,468.19M77.93,465.73L73.29,468.19" stroke="#151515" stroke-width="1.3" stroke-linecap="round" fill="none"/>
<path d="M178.30,464.11L178.30,469.81M175.98,465.73L180.62,468.19M180.62,465.73L175.98,468.19" stroke="#151515" stroke-width="1.3" stroke-linecap="round" fill="none"/>
<path d="M187.10,464.11L187.10,469.81M184.78,465.73L189.42,468.19M189.42,465.73L184.78,468.19" stroke="#151515" stroke-width="1.3" stroke-linecap="round" fill="none"/>
<path d="M195.70,464.11L195.70,469.81M193.38,465.73L198.02,468.19M198.02,465.73L193.38,468.19" stroke="#151515" stroke-width="1.3" stroke-linecap="round" fill="none"/>
<text transform="translate(250.64,310.15) scale(1,1.019)" font-size="14.80" font-weight="bold" font-style="normal" fill="#000" stroke="#000" stroke-width="0.5">D</text>
<text x="338.22" y="312.90" font-size="16.41" fill="#000" textLength="113.51" lengthAdjust="spacingAndGlyphs"><tspan font-weight="bold" font-style="normal">CD27+&#160;B&#160;cells</tspan></text>
<text transform="translate(261.02,500.31) rotate(-90)" x="0" y="0" font-size="15.43" fill="#111" textLength="45.58" lengthAdjust="spacingAndGlyphs"><tspan font-weight="normal" font-style="italic">In&#160;vitro</tspan></text>
<text transform="translate(261.02,451.14) rotate(-90)" x="0" y="0" font-size="15.43" fill="#111" textLength="66.93" lengthAdjust="spacingAndGlyphs"><tspan font-weight="normal" font-style="normal">MFI&#160;(20h)</tspan></text>
<rect x="293.50" y="348.50" width="22.00" height="8.00" rx="0.8" fill="#fff" stroke="#484848" stroke-width="1"/>
<rect x="341.50" y="348.50" width="21.00" height="8.00" rx="0.8" fill="#a0a0a0" stroke="#484848" stroke-width="1"/>
<text x="317.07" y="355.60" font-size="10.30" fill="#1a1a1a" textLength="13.13" lengthAdjust="spacingAndGlyphs"><tspan font-weight="normal" font-style="normal">HC</tspan></text>
<text x="363.95" y="355.60" font-size="10.30" fill="#1a1a1a" textLength="21.39" lengthAdjust="spacingAndGlyphs"><tspan font-weight="normal" font-style="normal">CVID</tspan></text>
<text transform="translate(284.45,435.00) scale(0.985,1)" font-size="8.7" font-weight="bold" text-anchor="end" fill="#111" stroke="#111" stroke-width="0.4">0.0</text>
<line x1="285.65" y1="419.65" x2="287.65" y2="419.65" stroke="#303030" stroke-width="1"/>
<text transform="translate(284.45,422.75) scale(0.985,1)" font-size="8.7" font-weight="bold" text-anchor="end" fill="#111" stroke="#111" stroke-width="0.4">0.5</text>
<line x1="285.65" y1="407.40" x2="287.65" y2="407.40" stroke="#303030" stroke-width="1"/>
<text transform="translate(284.45,410.50) scale(0.985,1)" font-size="8.7" font-weight="bold" text-anchor="end" fill="#111" stroke="#111" stroke-width="0.4">1.0</text>
<line x1="285.65" y1="395.15" x2="287.65" y2="395.15" stroke="#303030" stroke-width="1"/>
<text transform="translate(284.45,398.25) scale(0.985,1)" font-size="8.7" font-weight="bold" text-anchor="end" fill="#111" stroke="#111" stroke-width="0.4">1.5</text>
<line x1="285.65" y1="382.90" x2="287.65" y2="382.90" stroke="#303030" stroke-width="1"/>
<text transform="translate(284.45,386.00) scale(0.985,1)" font-size="8.7" font-weight="bold" text-anchor="end" fill="#111" stroke="#111" stroke-width="0.4">2.0</text>
<line x1="285.65" y1="370.65" x2="287.65" y2="370.65" stroke="#303030" stroke-width="1"/>
<text transform="translate(284.45,373.75) scale(0.985,1)" font-size="8.7" font-weight="bold" text-anchor="end" fill="#111" stroke="#111" stroke-width="0.4">2.5</text>
<line x1="285.65" y1="358.40" x2="287.65" y2="358.40" stroke="#303030" stroke-width="1"/>
<text transform="translate(284.45,361.50) scale(0.985,1)" font-size="8.7" font-weight="bold" text-anchor="end" fill="#111" stroke="#111" stroke-width="0.4">3.0</text>
<line x1="287.65" y1="357.90" x2="287.65" y2="432.40" stroke="#303030" stroke-width="1"/>
<rect x="294.75" y="376.52" width="30.83" height="55.38" fill="#ffffff" stroke="#262626" stroke-width="1"/>
<line x1="309.60" y1="370.93" x2="309.60" y2="380.86" stroke="#1e1e1e" stroke-width="1"/>
<line x1="302.41" y1="370.93" x2="317.92" y2="370.93" stroke="#1e1e1e" stroke-width="1"/>
<line x1="302.41" y1="380.86" x2="317.92" y2="380.86" stroke="#1e1e1e" stroke-width="1"/>
<rect x="340.47" y="376.02" width="29.94" height="55.88" fill="#a0a0a0" stroke="#262626" stroke-width="1"/>
<line x1="355.52" y1="367.34" x2="355.52" y2="384.34" stroke="#1e1e1e" stroke-width="1"/>
<line x1="348.07" y1="367.34" x2="363.83" y2="367.34" stroke="#1e1e1e" stroke-width="1"/>
<line x1="348.07" y1="384.34" x2="363.83" y2="384.34" stroke="#1e1e1e" stroke-width="1"/>
<line x1="287.15" y1="431.90" x2="379.00" y2="431.90" stroke="#303030" stroke-width="1"/>
<text x="316.39" y="339.20" font-size="13.52" fill="#111" textLength="34.42" lengthAdjust="spacingAndGlyphs"><tspan font-weight="normal" font-style="normal" stroke="#111" stroke-width="0.3">Bcl-2</tspan></text>
<text transform="translate(403.10,434.40) scale(0.985,1)" font-size="8.7" font-weight="bold" text-anchor="end" fill="#111" stroke="#111" stroke-width="0.4">0</text>
<line x1="404.30" y1="421.14" x2="406.30" y2="421.14" stroke="#303030" stroke-width="1"/>
<text transform="translate(403.10,424.24) scale(0.985,1)" font-size="8.7" font-weight="bold" text-anchor="end" fill="#111" stroke="#111" stroke-width="0.4">1</text>
<line x1="404.30" y1="410.99" x2="406.30" y2="410.99" stroke="#303030" stroke-width="1"/>
<text transform="translate(403.10,414.09) scale(0.985,1)" font-size="8.7" font-weight="bold" text-anchor="end" fill="#111" stroke="#111" stroke-width="0.4">2</text>
<line x1="404.30" y1="400.83" x2="406.30" y2="400.83" stroke="#303030" stroke-width="1"/>
<text transform="translate(403.10,403.93) scale(0.985,1)" font-size="8.7" font-weight="bold" text-anchor="end" fill="#111" stroke="#111" stroke-width="0.4">3</text>
<line x1="404.30" y1="390.67" x2="406.30" y2="390.67" stroke="#303030" stroke-width="1"/>
<text transform="translate(403.10,393.77) scale(0.985,1)" font-size="8.7" font-weight="bold" text-anchor="end" fill="#111" stroke="#111" stroke-width="0.4">4</text>
<line x1="404.30" y1="380.51" x2="406.30" y2="380.51" stroke="#303030" stroke-width="1"/>
<text transform="translate(403.10,383.61) scale(0.985,1)" font-size="8.7" font-weight="bold" text-anchor="end" fill="#111" stroke="#111" stroke-width="0.4">5</text>
<line x1="404.30" y1="370.36" x2="406.30" y2="370.36" stroke="#303030" stroke-width="1"/>
<text transform="translate(403.10,373.46) scale(0.985,1)" font-size="8.7" font-weight="bold" text-anchor="end" fill="#111" stroke="#111" stroke-width="0.4">6</text>
<line x1="404.30" y1="360.20" x2="406.30" y2="360.20" stroke="#303030" stroke-width="1"/>
<text transform="translate(403.10,363.30) scale(0.985,1)" font-size="8.7" font-weight="bold" text-anchor="end" fill="#111" stroke="#111" stroke-width="0.4">7</text>
<line x1="406.30" y1="359.70" x2="406.30" y2="431.80" stroke="#303030" stroke-width="1"/>
<rect x="414.50" y="385.41" width="30.90" height="45.89" fill="#ffffff" stroke="#262626" stroke-width="1"/>
<line x1="429.85" y1="371.51" x2="429.85" y2="392.36" stroke="#1e1e1e" stroke-width="1"/>
<line x1="422.04" y1="371.51" x2="437.55" y2="371.51" stroke="#1e1e1e" stroke-width="1"/>
<line x1="422.04" y1="392.36" x2="437.55" y2="392.36" stroke="#1e1e1e" stroke-width="1"/>
<rect x="460.78" y="375.48" width="30.74" height="55.82" fill="#a0a0a0" stroke="#262626" stroke-width="1"/>
<line x1="476.63" y1="360.96" x2="476.63" y2="385.78" stroke="#1e1e1e" stroke-width="1"/>
<line x1="468.32" y1="360.96" x2="484.08" y2="360.96" stroke="#1e1e1e" stroke-width="1"/>
<line x1="468.32" y1="385.78" x2="484.08" y2="385.78" stroke="#1e1e1e" stroke-width="1"/>
<line x1="405.80" y1="431.30" x2="499.50" y2="431.30" stroke="#303030" stroke-width="1"/>
<text x="424.83" y="339.30" font-size="13.38" fill="#111" textLength="43.22" lengthAdjust="spacingAndGlyphs"><tspan font-weight="normal" font-style="normal" stroke="#111" stroke-width="0.3">Bcl-XL</tspan></text>
<text transform="translate(282.20,535.50) scale(0.985,1)" font-size="8.7" font-weight="bold" text-anchor="end" fill="#111" stroke="#111" stroke-width="0.4">0.0</text>
<line x1="283.40" y1="520.92" x2="285.40" y2="520.92" stroke="#303030" stroke-width="1"/>
<text transform="translate(282.20,524.02) scale(0.985,1)" font-size="8.7" font-weight="bold" text-anchor="end" fill="#111" stroke="#111" stroke-width="0.4">2.5</text>
<line x1="283.40" y1="509.43" x2="285.40" y2="509.43" stroke="#303030" stroke-width="1"/>
<text transform="translate(282.20,512.53) scale(0.985,1)" font-size="8.7" font-weight="bold" text-anchor="end" fill="#111" stroke="#111" stroke-width="0.4">5.0</text>
<line x1="283.40" y1="497.95" x2="285.40" y2="497.95" stroke="#303030" stroke-width="1"/>
<text transform="translate(282.20,501.05) scale(0.985,1)" font-size="8.7" font-weight="bold" text-anchor="end" fill="#111" stroke="#111" stroke-width="0.4">7.5</text>
<line x1="283.40" y1="486.47" x2="285.40" y2="486.47" stroke="#303030" stroke-width="1"/>
<text transform="translate(282.20,489.57) scale(0.985,1)" font-size="8.7" font-weight="bold" text-anchor="end" fill="#111" stroke="#111" stroke-width="0.4">10.0</text>
<line x1="283.40" y1="474.98" x2="285.40" y2="474.98" stroke="#303030" stroke-width="1"/>
<text transform="translate(282.20,478.08) scale(0.985,1)" font-size="8.7" font-weight="bold" text-anchor="end" fill="#111" stroke="#111" stroke-width="0.4">12.5</text>
<line x1="283.40" y1="463.50" x2="285.40" y2="463.50" stroke="#303030" stroke-width="1"/>
<text transform="translate(282.20,466.60) scale(0.985,1)" font-size="8.7" font-weight="bold" text-anchor="end" fill="#111" stroke="#111" stroke-width="0.4">15.0</text>
<line x1="285.40" y1="463.00" x2="285.40" y2="532.90" stroke="#303030" stroke-width="1"/>
<rect x="293.38" y="490.15" width="30.03" height="42.25" fill="#ffffff" stroke="#262626" stroke-width="1"/>
<line x1="308.61" y1="478.86" x2="308.61" y2="499.46" stroke="#1e1e1e" stroke-width="1"/>
<line x1="301.17" y1="478.86" x2="316.43" y2="478.86" stroke="#1e1e1e" stroke-width="1"/>
<line x1="301.17" y1="499.46" x2="316.43" y2="499.46" stroke="#1e1e1e" stroke-width="1"/>
<rect x="339.55" y="474.64" width="29.86" height="57.76" fill="#a0a0a0" stroke="#262626" stroke-width="1"/>
<line x1="354.52" y1="463.10" x2="354.52" y2="488.29" stroke="#1e1e1e" stroke-width="1"/>
<line x1="347.08" y1="463.10" x2="361.97" y2="463.10" stroke="#1e1e1e" stroke-width="1"/>
<line x1="347.08" y1="488.29" x2="361.97" y2="488.29" stroke="#1e1e1e" stroke-width="1"/>
<line x1="284.90" y1="532.40" x2="377.20" y2="532.40" stroke="#303030" stroke-width="1"/>
<text x="314.75" y="453.20" font-size="13.33" fill="#111" textLength="24.87" lengthAdjust="spacingAndGlyphs"><tspan font-weight="normal" font-style="normal" stroke="#111" stroke-width="0.3">Bax</tspan></text>
<text transform="translate(401.65,535.50) scale(0.985,1)" font-size="8.7" font-weight="bold" text-anchor="end" fill="#111" stroke="#111" stroke-width="0.4">0.0</text>
<line x1="402.85" y1="523.27" x2="404.85" y2="523.27" stroke="#303030" stroke-width="1"/>
<text transform="translate(401.65,526.38) scale(0.985,1)" font-size="8.7" font-weight="bold" text-anchor="end" fill="#111" stroke="#111" stroke-width="0.4">0.5</text>
<line x1="402.85" y1="514.15" x2="404.85" y2="514.15" stroke="#303030" stroke-width="1"/>
<text transform="translate(401.65,517.25) scale(0.985,1)" font-size="8.7" font-weight="bold" text-anchor="end" fill="#111" stroke="#111" stroke-width="0.4">1.0</text>
<line x1="402.85" y1="505.02" x2="404.85" y2="505.02" stroke="#303030" stroke-width="1"/>
<text transform="translate(401.65,508.12) scale(0.985,1)" font-size="8.7" font-weight="bold" text-anchor="end" fill="#111" stroke="#111" stroke-width="0.4">1.5</text>
<line x1="402.85" y1="495.90" x2="404.85" y2="495.90" stroke="#303030" stroke-width="1"/>
<text transform="translate(401.65,499.00) scale(0.985,1)" font-size="8.7" font-weight="bold" text-anchor="end" fill="#111" stroke="#111" stroke-width="0.4">2.0</text>
<line x1="402.85" y1="486.77" x2="404.85" y2="486.77" stroke="#303030" stroke-width="1"/>
<text transform="translate(401.65,489.88) scale(0.985,1)" font-size="8.7" font-weight="bold" text-anchor="end" fill="#111" stroke="#111" stroke-width="0.4">2.5</text>
<line x1="402.85" y1="477.65" x2="404.85" y2="477.65" stroke="#303030" stroke-width="1"/>
<text transform="translate(401.65,480.75) scale(0.985,1)" font-size="8.7" font-weight="bold" text-anchor="end" fill="#111" stroke="#111" stroke-width="0.4">3.0</text>
<line x1="402.85" y1="468.52" x2="404.85" y2="468.52" stroke="#303030" stroke-width="1"/>
<text transform="translate(401.65,471.62) scale(0.985,1)" font-size="8.7" font-weight="bold" text-anchor="end" fill="#111" stroke="#111" stroke-width="0.4">3.5</text>
<line x1="402.85" y1="459.40" x2="404.85" y2="459.40" stroke="#303030" stroke-width="1"/>
<text transform="translate(401.65,462.50) scale(0.985,1)" font-size="8.7" font-weight="bold" text-anchor="end" fill="#111" stroke="#111" stroke-width="0.4">4.0</text>
<line x1="404.85" y1="458.90" x2="404.85" y2="532.90" stroke="#303030" stroke-width="1"/>
<rect x="412.75" y="500.22" width="30.71" height="32.18" fill="#ffffff" stroke="#262626" stroke-width="1"/>
<line x1="427.60" y1="494.51" x2="427.60" y2="500.71" stroke="#1e1e1e" stroke-width="1"/>
<line x1="420.41" y1="494.51" x2="435.92" y2="494.51" stroke="#1e1e1e" stroke-width="1"/>
<line x1="420.41" y1="500.71" x2="435.92" y2="500.71" stroke="#1e1e1e" stroke-width="1"/>
<rect x="459.50" y="480.36" width="30.77" height="52.04" fill="#a0a0a0" stroke="#262626" stroke-width="1"/>
<line x1="475.00" y1="468.82" x2="475.00" y2="489.30" stroke="#1e1e1e" stroke-width="1"/>
<line x1="466.94" y1="468.82" x2="482.45" y2="468.82" stroke="#1e1e1e" stroke-width="1"/>
<line x1="466.94" y1="489.30" x2="482.45" y2="489.30" stroke="#1e1e1e" stroke-width="1"/>
<line x1="404.35" y1="532.40" x2="499.00" y2="532.40" stroke="#303030" stroke-width="1"/>
<text x="429.93" y="453.20" font-size="12.69" fill="#111" textLength="25.15" lengthAdjust="spacingAndGlyphs"><tspan font-weight="normal" font-style="normal" stroke="#111" stroke-width="0.3">Bim</tspan></text>
<path d="M318.54,464.22L318.54,469.92M316.22,465.84L320.86,468.30M320.86,465.84L316.22,468.30" stroke="#151515" stroke-width="1.3" stroke-linecap="round" fill="none"/>
<path d="M327.23,464.22L327.23,469.92M324.91,465.84L329.55,468.30M329.55,465.84L324.91,468.30" stroke="#151515" stroke-width="1.3" stroke-linecap="round" fill="none"/>
<path d="M335.91,464.22L335.91,469.92M333.59,465.84L338.23,468.30M338.23,465.84L333.59,468.30" stroke="#151515" stroke-width="1.3" stroke-linecap="round" fill="none"/>
<path d="M433.44,464.11L433.44,469.81M431.12,465.73L435.76,468.19M435.76,465.73L431.12,468.19" stroke="#151515" stroke-width="1.3" stroke-linecap="round" fill="none"/>
<path d="M442.12,464.11L442.12,469.81M439.80,465.73L444.44,468.19M444.44,465.73L439.80,468.19" stroke="#151515" stroke-width="1.3" stroke-linecap="round" fill="none"/>
<path d="M450.81,464.11L450.81,469.81M448.49,465.73L453.13,468.19M453.13,465.73L448.49,468.19" stroke="#151515" stroke-width="1.3" stroke-linecap="round" fill="none"/>
<text transform="translate(515.56,12.35) scale(1,1.343)" font-size="11.33" font-weight="bold" font-style="normal" fill="#000" stroke="#000" stroke-width="0.5">E</text>
<text transform="translate(522.60,99.98) rotate(-90)" x="0" y="0" font-size="9.30" fill="#111" textLength="70.00" lengthAdjust="spacingAndGlyphs"><tspan font-weight="bold" font-style="italic">In&#160;vitro</tspan><tspan font-weight="bold" font-style="normal">&#160;%&#160;viable</tspan></text>
<text transform="translate(533.90,97.00) rotate(-90)" x="0" y="0" font-size="9.30" fill="#111" textLength="65.62" lengthAdjust="spacingAndGlyphs"><tspan font-weight="bold" font-style="normal">CD27+&#160;B&#160;cells</tspan></text>
<line x1="553.80" y1="98.50" x2="556.50" y2="98.50" stroke="#303030" stroke-width="1"/>
<text x="553.60" y="101.90" font-size="8.2" font-weight="bold" text-anchor="end" fill="#1a1a1a">25</text>
<line x1="553.80" y1="71.50" x2="556.50" y2="71.50" stroke="#303030" stroke-width="1"/>
<text x="553.60" y="75.73" font-size="8.2" font-weight="bold" text-anchor="end" fill="#1a1a1a">50</text>
<line x1="553.80" y1="45.50" x2="556.50" y2="45.50" stroke="#303030" stroke-width="1"/>
<text x="553.60" y="49.57" font-size="8.2" font-weight="bold" text-anchor="end" fill="#1a1a1a">75</text>
<line x1="553.80" y1="19.50" x2="556.50" y2="19.50" stroke="#303030" stroke-width="1"/>
<text x="553.60" y="23.40" font-size="8.2" font-weight="bold" text-anchor="end" fill="#1a1a1a">100</text>
<line x1="556.50" y1="19.00" x2="556.50" y2="99.00" stroke="#303030" stroke-width="1"/>
<line x1="556.00" y1="98.50" x2="621.50" y2="98.50" stroke="#303030" stroke-width="1"/>
<path d="M583.60,7.00L583.60,13.20M581.08,8.76L586.12,11.44M586.12,8.76L581.08,11.44" stroke="#333" stroke-width="1.1" stroke-linecap="round" fill="none"/>
<path d="M592.25,7.00L592.25,13.20M589.73,8.76L594.77,11.44M594.77,8.76L589.73,11.44" stroke="#333" stroke-width="1.1" stroke-linecap="round" fill="none"/>
<path d="M600.90,7.00L600.90,13.20M598.38,8.76L603.42,11.44M603.42,8.76L598.38,11.44" stroke="#333" stroke-width="1.1" stroke-linecap="round" fill="none"/>
<text x="567.20" y="107.30" font-size="9.57" fill="#111" textLength="12.58" lengthAdjust="spacingAndGlyphs"><tspan font-weight="normal" font-style="normal" stroke="#111" stroke-width="0.3">HC</tspan></text>
<text x="592.63" y="107.30" font-size="9.57" fill="#111" textLength="22.43" lengthAdjust="spacingAndGlyphs"><tspan font-weight="normal" font-style="normal" stroke="#111" stroke-width="0.3">CVID</tspan></text>
<line x1="562.00" y1="22.80" x2="583.70" y2="22.80" stroke="#777" stroke-width="1"/>
<circle cx="568.50" cy="20.50" r="2.3" fill="#fff" stroke="#1e1e1e" stroke-width="0.9"/>
<circle cx="577.60" cy="20.30" r="2.3" fill="#fff" stroke="#1e1e1e" stroke-width="0.9"/>
<circle cx="572.30" cy="22.20" r="2.3" fill="#fff" stroke="#1e1e1e" stroke-width="0.9"/>
<circle cx="564.50" cy="26.90" r="2.3" fill="#fff" stroke="#1e1e1e" stroke-width="0.9"/>
<circle cx="575.10" cy="25.20" r="2.3" fill="#fff" stroke="#1e1e1e" stroke-width="0.9"/>
<circle cx="569.00" cy="25.90" r="2.3" fill="#fff" stroke="#1e1e1e" stroke-width="0.9"/>
<circle cx="573.00" cy="29.40" r="2.3" fill="#fff" stroke="#1e1e1e" stroke-width="0.9"/>
<circle cx="581.10" cy="27.30" r="2.3" fill="#fff" stroke="#1e1e1e" stroke-width="0.9"/>
<line x1="595.00" y1="30.40" x2="616.50" y2="30.40" stroke="#777" stroke-width="1"/>
<circle cx="605.50" cy="20.80" r="2.4" fill="#d6d6d6" stroke="#1e1e1e" stroke-width="0.9"/>
<circle cx="605.50" cy="26.10" r="2.4" fill="#d6d6d6" stroke="#1e1e1e" stroke-width="0.9"/>
<circle cx="605.50" cy="33.80" r="2.4" fill="#d6d6d6" stroke="#1e1e1e" stroke-width="0.9"/>
<circle cx="597.30" cy="25.10" r="2.4" fill="#d6d6d6" stroke="#1e1e1e" stroke-width="0.9"/>
<circle cx="597.30" cy="28.50" r="2.4" fill="#d6d6d6" stroke="#1e1e1e" stroke-width="0.9"/>
<circle cx="600.20" cy="27.80" r="2.4" fill="#d6d6d6" stroke="#1e1e1e" stroke-width="0.9"/>
<circle cx="613.50" cy="25.60" r="2.4" fill="#d6d6d6" stroke="#1e1e1e" stroke-width="0.9"/>
<circle cx="613.50" cy="31.40" r="2.4" fill="#d6d6d6" stroke="#1e1e1e" stroke-width="0.9"/>
<circle cx="601.40" cy="44.00" r="2.4" fill="#333" stroke="#111" stroke-width="0.9"/>
<circle cx="609.30" cy="47.00" r="2.4" fill="#333" stroke="#111" stroke-width="0.9"/>
<circle cx="597.10" cy="56.20" r="2.4" fill="#333" stroke="#111" stroke-width="0.9"/>
<circle cx="613.60" cy="57.30" r="2.4" fill="#333" stroke="#111" stroke-width="0.9"/>
<circle cx="605.50" cy="61.60" r="2.4" fill="#333" stroke="#111" stroke-width="0.9"/>
<circle cx="605.70" cy="69.80" r="2.4" fill="#333" stroke="#111" stroke-width="0.9"/>
<circle cx="601.40" cy="81.00" r="2.4" fill="#333" stroke="#111" stroke-width="0.9"/>
<circle cx="609.30" cy="79.00" r="2.4" fill="#333" stroke="#111" stroke-width="0.9"/>
<text transform="translate(516.48,133.15) scale(1,1.224)" font-size="12.55" font-weight="bold" font-style="normal" fill="#000" stroke="#000" stroke-width="0.5">F</text>
<text transform="translate(523.60,213.00) rotate(-90)" x="0" y="0" font-size="9.30" fill="#111" textLength="72.67" lengthAdjust="spacingAndGlyphs"><tspan font-weight="bold" font-style="italic">In&#160;vitro</tspan><tspan font-weight="normal" font-style="normal" stroke="#111" stroke-width="0.3">&#160;%&#160;viable</tspan></text>
<text transform="translate(535.00,210.63) rotate(-90)" x="0" y="0" font-size="9.30" fill="#111" textLength="68.00" lengthAdjust="spacingAndGlyphs"><tspan font-weight="normal" font-style="normal" stroke="#111" stroke-width="0.3">CD27+&#160;B&#160;cells</tspan></text>
<line x1="550.80" y1="205.50" x2="552.50" y2="205.50" stroke="#303030" stroke-width="1"/>
<text x="550.00" y="208.60" font-size="8.2" font-weight="bold" text-anchor="end" fill="#1a1a1a">0</text>
<line x1="550.80" y1="192.50" x2="552.50" y2="192.50" stroke="#303030" stroke-width="1"/>
<text x="550.00" y="195.70" font-size="8.2" font-weight="bold" text-anchor="end" fill="#1a1a1a">20</text>
<line x1="550.80" y1="179.50" x2="552.50" y2="179.50" stroke="#303030" stroke-width="1"/>
<text x="550.00" y="182.80" font-size="8.2" font-weight="bold" text-anchor="end" fill="#1a1a1a">40</text>
<line x1="550.80" y1="166.50" x2="552.50" y2="166.50" stroke="#303030" stroke-width="1"/>
<text x="550.00" y="169.90" font-size="8.2" font-weight="bold" text-anchor="end" fill="#1a1a1a">60</text>
<line x1="550.80" y1="153.50" x2="552.50" y2="153.50" stroke="#303030" stroke-width="1"/>
<text x="550.00" y="157.00" font-size="8.2" font-weight="bold" text-anchor="end" fill="#1a1a1a">80</text>
<line x1="550.80" y1="140.50" x2="552.50" y2="140.50" stroke="#303030" stroke-width="1"/>
<text x="550.00" y="144.10" font-size="8.2" font-weight="bold" text-anchor="end" fill="#1a1a1a">100</text>
<line x1="552.50" y1="140.00" x2="552.50" y2="206.00" stroke="#303030" stroke-width="1"/>
<line x1="552.00" y1="205.50" x2="674.80" y2="205.50" stroke="#303030" stroke-width="1"/>
<line x1="552.50" y1="205.30" x2="552.50" y2="207.20" stroke="#303030" stroke-width="1"/>
<text x="552.50" y="215.0" font-size="8.2" font-weight="bold" text-anchor="middle" fill="#1a1a1a">0</text>
<line x1="569.50" y1="205.30" x2="569.50" y2="207.20" stroke="#303030" stroke-width="1"/>
<text x="569.50" y="215.0" font-size="8.2" font-weight="bold" text-anchor="middle" fill="#1a1a1a">20</text>
<line x1="587.50" y1="205.30" x2="587.50" y2="207.20" stroke="#303030" stroke-width="1"/>
<text x="587.50" y="215.0" font-size="8.2" font-weight="bold" text-anchor="middle" fill="#1a1a1a">40</text>
<line x1="604.50" y1="205.30" x2="604.50" y2="207.20" stroke="#303030" stroke-width="1"/>
<text x="604.50" y="215.0" font-size="8.2" font-weight="bold" text-anchor="middle" fill="#1a1a1a">60</text>
<line x1="622.50" y1="205.30" x2="622.50" y2="207.20" stroke="#303030" stroke-width="1"/>
<text x="622.50" y="215.0" font-size="8.2" font-weight="bold" text-anchor="middle" fill="#1a1a1a">80</text>
<line x1="639.50" y1="205.30" x2="639.50" y2="207.20" stroke="#303030" stroke-width="1"/>
<text x="639.50" y="215.0" font-size="8.2" font-weight="bold" text-anchor="middle" fill="#1a1a1a">100</text>
<line x1="657.50" y1="205.30" x2="657.50" y2="207.20" stroke="#303030" stroke-width="1"/>
<text x="657.50" y="215.0" font-size="8.2" font-weight="bold" text-anchor="middle" fill="#1a1a1a">120</text>
<line x1="674.50" y1="205.30" x2="674.50" y2="207.20" stroke="#303030" stroke-width="1"/>
<text x="674.50" y="215.0" font-size="8.2" font-weight="bold" text-anchor="middle" fill="#1a1a1a">140</text>
<text x="557.20" y="230.10" font-size="9.60" fill="#111" textLength="116.37" lengthAdjust="spacingAndGlyphs"><tspan font-weight="bold" font-style="italic">Ex&#160;vivo</tspan><tspan font-weight="normal" font-style="normal" stroke="#111" stroke-width="0.3">&#160;CD27+&#160;B&#160;cells&#160;/&#160;µl</tspan></text>
<text x="628.96" y="180.00" font-size="10.80" fill="#161616" textLength="45.75" lengthAdjust="spacingAndGlyphs"><tspan font-weight="normal" font-style="normal">R&#160;=&#160;0.705</tspan></text>
<text x="629.26" y="192.20" font-size="10.80" fill="#161616" textLength="49.34" lengthAdjust="spacingAndGlyphs"><tspan font-weight="normal" font-style="italic">p</tspan><tspan font-weight="normal" font-style="normal">&#160;=&#160;0.0016</tspan></text>
<line x1="559.50" y1="161.60" x2="647.50" y2="141.30" stroke="#222" stroke-width="1"/>
<circle cx="572.00" cy="144.10" r="2.4" fill="#d6d6d6" stroke="#1e1e1e" stroke-width="0.9"/>
<circle cx="578.40" cy="145.70" r="2.4" fill="#d6d6d6" stroke="#1e1e1e" stroke-width="0.9"/>
<circle cx="587.90" cy="145.70" r="2.4" fill="#d6d6d6" stroke="#1e1e1e" stroke-width="0.9"/>
<circle cx="594.20" cy="144.80" r="2.4" fill="#d6d6d6" stroke="#1e1e1e" stroke-width="0.9"/>
<circle cx="600.50" cy="144.00" r="2.4" fill="#d6d6d6" stroke="#1e1e1e" stroke-width="0.9"/>
<circle cx="597.90" cy="149.60" r="2.4" fill="#d6d6d6" stroke="#1e1e1e" stroke-width="0.9"/>
<circle cx="613.60" cy="148.00" r="2.4" fill="#d6d6d6" stroke="#1e1e1e" stroke-width="0.9"/>
<circle cx="647.70" cy="141.70" r="2.4" fill="#d6d6d6" stroke="#1e1e1e" stroke-width="0.9"/>
<circle cx="645.00" cy="146.80" r="2.4" fill="#d6d6d6" stroke="#1e1e1e" stroke-width="0.9"/>
<circle cx="662.80" cy="145.80" r="2.4" fill="#d6d6d6" stroke="#1e1e1e" stroke-width="0.9"/>
<circle cx="560.80" cy="155.50" r="2.5" fill="#333" stroke="#111" stroke-width="0.9"/>
<circle cx="555.70" cy="162.80" r="2.5" fill="#333" stroke="#111" stroke-width="0.9"/>
<circle cx="561.60" cy="163.70" r="2.5" fill="#333" stroke="#111" stroke-width="0.9"/>
<circle cx="552.90" cy="168.10" r="2.5" fill="#333" stroke="#111" stroke-width="0.9"/>
<circle cx="552.90" cy="170.90" r="2.5" fill="#333" stroke="#111" stroke-width="0.9"/>
<circle cx="554.80" cy="176.90" r="2.5" fill="#333" stroke="#111" stroke-width="0.9"/>
<circle cx="563.60" cy="178.10" r="2.5" fill="#333" stroke="#111" stroke-width="0.9"/>
<text transform="translate(517.73,249.25) scale(1,1.105)" font-size="14.22" font-weight="bold" font-style="normal" fill="#000" stroke="#000" stroke-width="0.5">G</text>
<text transform="translate(523.50,331.49) rotate(-90)" x="0" y="0" font-size="9.30" fill="#111" textLength="71.35" lengthAdjust="spacingAndGlyphs"><tspan font-weight="bold" font-style="italic">Ex&#160;vivo</tspan><tspan font-weight="normal" font-style="normal" stroke="#111" stroke-width="0.3">&#160;Bax&#160;MFI</tspan></text>
<text transform="translate(534.80,326.50) rotate(-90)" x="0" y="0" font-size="9.30" fill="#111" textLength="64.15" lengthAdjust="spacingAndGlyphs"><tspan font-weight="normal" font-style="normal" stroke="#111" stroke-width="0.3">CD27+&#160;B&#160;cells</tspan></text>
<text x="550.00" y="331.30" font-size="8.2" font-weight="bold" text-anchor="end" fill="#1a1a1a">0</text>
<line x1="550.80" y1="316.50" x2="552.50" y2="316.50" stroke="#303030" stroke-width="1"/>
<text x="550.00" y="320.45" font-size="8.2" font-weight="bold" text-anchor="end" fill="#1a1a1a">5</text>
<line x1="550.80" y1="306.50" x2="552.50" y2="306.50" stroke="#303030" stroke-width="1"/>
<text x="550.00" y="309.60" font-size="8.2" font-weight="bold" text-anchor="end" fill="#1a1a1a">10</text>
<line x1="550.80" y1="295.50" x2="552.50" y2="295.50" stroke="#303030" stroke-width="1"/>
<text x="550.00" y="298.75" font-size="8.2" font-weight="bold" text-anchor="end" fill="#1a1a1a">15</text>
<line x1="550.80" y1="284.50" x2="552.50" y2="284.50" stroke="#303030" stroke-width="1"/>
<text x="550.00" y="287.90" font-size="8.2" font-weight="bold" text-anchor="end" fill="#1a1a1a">20</text>
<line x1="550.80" y1="273.50" x2="552.50" y2="273.50" stroke="#303030" stroke-width="1"/>
<text x="550.00" y="277.05" font-size="8.2" font-weight="bold" text-anchor="end" fill="#1a1a1a">25</text>
<line x1="550.80" y1="262.50" x2="552.50" y2="262.50" stroke="#303030" stroke-width="1"/>
<text x="550.00" y="266.20" font-size="8.2" font-weight="bold" text-anchor="end" fill="#1a1a1a">30</text>
<line x1="552.50" y1="262.00" x2="552.50" y2="328.50" stroke="#303030" stroke-width="1"/>
<line x1="552.00" y1="328.00" x2="677.50" y2="328.00" stroke="#303030" stroke-width="1"/>
<line x1="570.50" y1="328.00" x2="570.50" y2="329.80" stroke="#303030" stroke-width="1"/>
<text x="570.50" y="338.40" font-size="8.2" font-weight="bold" text-anchor="middle" fill="#1a1a1a">40</text>
<line x1="606.50" y1="328.00" x2="606.50" y2="329.80" stroke="#303030" stroke-width="1"/>
<text x="606.50" y="338.40" font-size="8.2" font-weight="bold" text-anchor="middle" fill="#1a1a1a">60</text>
<line x1="641.50" y1="328.00" x2="641.50" y2="329.80" stroke="#303030" stroke-width="1"/>
<text x="641.50" y="338.40" font-size="8.2" font-weight="bold" text-anchor="middle" fill="#1a1a1a">80</text>
<line x1="677.50" y1="328.00" x2="677.50" y2="329.80" stroke="#303030" stroke-width="1"/>
<text x="677.50" y="338.40" font-size="8.2" font-weight="bold" text-anchor="middle" fill="#1a1a1a">100</text>
<line x1="573.70" y1="289.40" x2="659.60" y2="308.20" stroke="#222" stroke-width="1"/>
<circle cx="662.70" cy="299.90" r="2.4" fill="#d6d6d6" stroke="#1e1e1e" stroke-width="0.9"/>
<circle cx="663.00" cy="306.10" r="2.4" fill="#d6d6d6" stroke="#1e1e1e" stroke-width="0.9"/>
<circle cx="668.90" cy="307.00" r="2.4" fill="#d6d6d6" stroke="#1e1e1e" stroke-width="0.9"/>
<circle cx="666.90" cy="309.10" r="2.4" fill="#d6d6d6" stroke="#1e1e1e" stroke-width="0.9"/>
<circle cx="652.80" cy="311.40" r="2.4" fill="#d6d6d6" stroke="#1e1e1e" stroke-width="0.9"/>
<circle cx="657.40" cy="310.70" r="2.4" fill="#d6d6d6" stroke="#1e1e1e" stroke-width="0.9"/>
<circle cx="656.80" cy="314.60" r="2.4" fill="#d6d6d6" stroke="#1e1e1e" stroke-width="0.9"/>
<circle cx="662.70" cy="311.70" r="2.4" fill="#d6d6d6" stroke="#1e1e1e" stroke-width="0.9"/>
<circle cx="663.30" cy="316.00" r="2.4" fill="#d6d6d6" stroke="#1e1e1e" stroke-width="0.9"/>
<circle cx="666.90" cy="313.30" r="2.4" fill="#d6d6d6" stroke="#1e1e1e" stroke-width="0.9"/>
<circle cx="674.80" cy="313.70" r="2.4" fill="#d6d6d6" stroke="#1e1e1e" stroke-width="0.9"/>
<circle cx="573.70" cy="285.50" r="2.5" fill="#333" stroke="#111" stroke-width="0.9"/>
<circle cx="576.70" cy="303.40" r="2.5" fill="#333" stroke="#111" stroke-width="0.9"/>
<circle cx="592.80" cy="288.80" r="2.5" fill="#333" stroke="#111" stroke-width="0.9"/>
<circle cx="601.20" cy="280.40" r="2.5" fill="#333" stroke="#111" stroke-width="0.9"/>
<circle cx="615.60" cy="295.60" r="2.5" fill="#333" stroke="#111" stroke-width="0.9"/>
<circle cx="613.50" cy="315.40" r="2.5" fill="#333" stroke="#111" stroke-width="0.9"/>
<circle cx="631.20" cy="294.70" r="2.5" fill="#333" stroke="#111" stroke-width="0.9"/>
<circle cx="636.20" cy="312.40" r="2.5" fill="#333" stroke="#111" stroke-width="0.9"/>
<text x="624.05" y="268.30" font-size="10.60" fill="#161616" textLength="52.73" lengthAdjust="spacingAndGlyphs"><tspan font-weight="normal" font-style="normal">R&#160;=&#160;</tspan><tspan font-weight="bold" font-style="normal">-</tspan><tspan font-weight="normal" font-style="normal">&#160;0.466</tspan></text>
<text x="624.26" y="280.50" font-size="10.60" fill="#161616" textLength="50.05" lengthAdjust="spacingAndGlyphs"><tspan font-weight="normal" font-style="italic">p</tspan><tspan font-weight="normal" font-style="normal">&#160;=&#160;0.0383</tspan></text>
<text transform="translate(523.50,419.49) rotate(-90)" x="0" y="0" font-size="9.30" fill="#111" textLength="71.80" lengthAdjust="spacingAndGlyphs"><tspan font-weight="bold" font-style="italic">Ex&#160;vivo</tspan><tspan font-weight="normal" font-style="normal" stroke="#111" stroke-width="0.3">&#160;Bim&#160;MFI</tspan></text>
<text transform="translate(534.80,414.49) rotate(-90)" x="0" y="0" font-size="9.30" fill="#111" textLength="61.82" lengthAdjust="spacingAndGlyphs"><tspan font-weight="normal" font-style="normal" stroke="#111" stroke-width="0.3">CD27+&#160;B&#160;cells</tspan></text>
<text x="552.00" y="419.30" font-size="8.2" font-weight="bold" text-anchor="end" fill="#1a1a1a">0.5</text>
<line x1="552.80" y1="405.50" x2="554.50" y2="405.50" stroke="#303030" stroke-width="1"/>
<text x="552.00" y="408.70" font-size="8.2" font-weight="bold" text-anchor="end" fill="#1a1a1a">1.0</text>
<line x1="552.80" y1="394.50" x2="554.50" y2="394.50" stroke="#303030" stroke-width="1"/>
<text x="552.00" y="398.10" font-size="8.2" font-weight="bold" text-anchor="end" fill="#1a1a1a">1.5</text>
<line x1="552.80" y1="383.50" x2="554.50" y2="383.50" stroke="#303030" stroke-width="1"/>
<text x="552.00" y="387.50" font-size="8.2" font-weight="bold" text-anchor="end" fill="#1a1a1a">2.0</text>
<line x1="552.80" y1="373.50" x2="554.50" y2="373.50" stroke="#303030" stroke-width="1"/>
<text x="552.00" y="376.90" font-size="8.2" font-weight="bold" text-anchor="end" fill="#1a1a1a">2.5</text>
<line x1="552.80" y1="362.50" x2="554.50" y2="362.50" stroke="#303030" stroke-width="1"/>
<text x="552.00" y="366.30" font-size="8.2" font-weight="bold" text-anchor="end" fill="#1a1a1a">3.0</text>
<line x1="552.80" y1="352.50" x2="554.50" y2="352.50" stroke="#303030" stroke-width="1"/>
<text x="552.00" y="355.70" font-size="8.2" font-weight="bold" text-anchor="end" fill="#1a1a1a">3.5</text>
<line x1="554.50" y1="352.00" x2="554.50" y2="416.50" stroke="#303030" stroke-width="1"/>
<line x1="554.00" y1="416.00" x2="677.50" y2="416.00" stroke="#303030" stroke-width="1"/>
<line x1="571.50" y1="416.00" x2="571.50" y2="417.80" stroke="#303030" stroke-width="1"/>
<text x="571.50" y="426.40" font-size="8.2" font-weight="bold" text-anchor="middle" fill="#1a1a1a">40</text>
<line x1="606.50" y1="416.00" x2="606.50" y2="417.80" stroke="#303030" stroke-width="1"/>
<text x="606.50" y="426.40" font-size="8.2" font-weight="bold" text-anchor="middle" fill="#1a1a1a">60</text>
<line x1="641.50" y1="416.00" x2="641.50" y2="417.80" stroke="#303030" stroke-width="1"/>
<text x="641.50" y="426.40" font-size="8.2" font-weight="bold" text-anchor="middle" fill="#1a1a1a">80</text>
<line x1="676.50" y1="416.00" x2="676.50" y2="417.80" stroke="#303030" stroke-width="1"/>
<text x="676.50" y="426.40" font-size="8.2" font-weight="bold" text-anchor="middle" fill="#1a1a1a">100</text>
<line x1="575.10" y1="370.50" x2="674.30" y2="391.10" stroke="#222" stroke-width="1"/>
<circle cx="663.00" cy="372.80" r="2.4" fill="#d6d6d6" stroke="#1e1e1e" stroke-width="0.9"/>
<circle cx="668.00" cy="379.80" r="2.4" fill="#d6d6d6" stroke="#1e1e1e" stroke-width="0.9"/>
<circle cx="663.20" cy="383.80" r="2.4" fill="#d6d6d6" stroke="#1e1e1e" stroke-width="0.9"/>
<circle cx="653.40" cy="383.60" r="2.4" fill="#d6d6d6" stroke="#1e1e1e" stroke-width="0.9"/>
<circle cx="657.30" cy="386.60" r="2.4" fill="#d6d6d6" stroke="#1e1e1e" stroke-width="0.9"/>
<circle cx="675.00" cy="384.70" r="2.4" fill="#d6d6d6" stroke="#1e1e1e" stroke-width="0.9"/>
<circle cx="661.60" cy="395.20" r="2.4" fill="#d6d6d6" stroke="#1e1e1e" stroke-width="0.9"/>
<circle cx="663.80" cy="399.30" r="2.4" fill="#d6d6d6" stroke="#1e1e1e" stroke-width="0.9"/>
<circle cx="668.00" cy="395.90" r="2.4" fill="#d6d6d6" stroke="#1e1e1e" stroke-width="0.9"/>
<circle cx="669.80" cy="393.30" r="2.4" fill="#d6d6d6" stroke="#1e1e1e" stroke-width="0.9"/>
<circle cx="663.80" cy="393.70" r="2.4" fill="#d6d6d6" stroke="#1e1e1e" stroke-width="0.9"/>
<circle cx="574.70" cy="358.10" r="2.5" fill="#333" stroke="#111" stroke-width="0.9"/>
<circle cx="578.40" cy="375.20" r="2.5" fill="#333" stroke="#111" stroke-width="0.9"/>
<circle cx="602.40" cy="371.10" r="2.5" fill="#333" stroke="#111" stroke-width="0.9"/>
<circle cx="616.80" cy="377.70" r="2.5" fill="#333" stroke="#111" stroke-width="0.9"/>
<circle cx="614.40" cy="384.30" r="2.5" fill="#333" stroke="#111" stroke-width="0.9"/>
<circle cx="594.30" cy="393.40" r="2.5" fill="#333" stroke="#111" stroke-width="0.9"/>
<circle cx="632.00" cy="380.10" r="2.5" fill="#333" stroke="#111" stroke-width="0.9"/>
<circle cx="636.80" cy="372.30" r="2.5" fill="#333" stroke="#111" stroke-width="0.9"/>
<text x="557.56" y="412.00" font-size="11.29" fill="#161616" textLength="107.69" lengthAdjust="spacingAndGlyphs"><tspan font-weight="normal" font-style="normal">R&#160;=&#160;</tspan><tspan font-weight="bold" font-style="normal">-</tspan><tspan font-weight="normal" font-style="normal">&#160;0.600;&#160;</tspan><tspan font-weight="normal" font-style="italic">p</tspan><tspan font-weight="normal" font-style="normal">&#160;=&#160;0.0058</tspan></text>
<text transform="translate(523.50,513.20) rotate(-90)" x="0" y="0" font-size="9.30" fill="#111" textLength="71.72" lengthAdjust="spacingAndGlyphs"><tspan font-weight="bold" font-style="italic">In&#160;vitro</tspan><tspan font-weight="normal" font-style="normal" stroke="#111" stroke-width="0.3">&#160;Bim&#160;MFI</tspan></text>
<text transform="translate(534.80,510.01) rotate(-90)" x="0" y="0" font-size="9.30" fill="#111" textLength="64.45" lengthAdjust="spacingAndGlyphs"><tspan font-weight="normal" font-style="normal" stroke="#111" stroke-width="0.3">CD27+&#160;B&#160;cells</tspan></text>
<text x="550.00" y="512.90" font-size="8.2" font-weight="bold" text-anchor="end" fill="#1a1a1a">1.5</text>
<line x1="550.80" y1="498.50" x2="552.50" y2="498.50" stroke="#303030" stroke-width="1"/>
<text x="550.00" y="502.03" font-size="8.2" font-weight="bold" text-anchor="end" fill="#1a1a1a">2.0</text>
<line x1="550.80" y1="487.50" x2="552.50" y2="487.50" stroke="#303030" stroke-width="1"/>
<text x="550.00" y="491.17" font-size="8.2" font-weight="bold" text-anchor="end" fill="#1a1a1a">2.5</text>
<line x1="550.80" y1="476.50" x2="552.50" y2="476.50" stroke="#303030" stroke-width="1"/>
<text x="550.00" y="480.30" font-size="8.2" font-weight="bold" text-anchor="end" fill="#1a1a1a">3.0</text>
<line x1="550.80" y1="465.50" x2="552.50" y2="465.50" stroke="#303030" stroke-width="1"/>
<text x="550.00" y="469.43" font-size="8.2" font-weight="bold" text-anchor="end" fill="#1a1a1a">3.5</text>
<line x1="550.80" y1="454.50" x2="552.50" y2="454.50" stroke="#303030" stroke-width="1"/>
<text x="550.00" y="458.57" font-size="8.2" font-weight="bold" text-anchor="end" fill="#1a1a1a">4.0</text>
<line x1="550.80" y1="444.50" x2="552.50" y2="444.50" stroke="#303030" stroke-width="1"/>
<text x="550.00" y="447.70" font-size="8.2" font-weight="bold" text-anchor="end" fill="#1a1a1a">4.5</text>
<line x1="552.50" y1="444.00" x2="552.50" y2="510.10" stroke="#303030" stroke-width="1"/>
<line x1="552.00" y1="509.60" x2="676.80" y2="509.60" stroke="#303030" stroke-width="1"/>
<line x1="570.50" y1="509.60" x2="570.50" y2="511.40" stroke="#303030" stroke-width="1"/>
<text x="570.50" y="520.00" font-size="8.2" font-weight="bold" text-anchor="middle" fill="#1a1a1a">40</text>
<line x1="606.50" y1="509.60" x2="606.50" y2="511.40" stroke="#303030" stroke-width="1"/>
<text x="606.50" y="520.00" font-size="8.2" font-weight="bold" text-anchor="middle" fill="#1a1a1a">60</text>
<line x1="641.50" y1="509.60" x2="641.50" y2="511.40" stroke="#303030" stroke-width="1"/>
<text x="641.50" y="520.00" font-size="8.2" font-weight="bold" text-anchor="middle" fill="#1a1a1a">80</text>
<line x1="677.50" y1="509.60" x2="677.50" y2="511.40" stroke="#303030" stroke-width="1"/>
<text x="677.50" y="520.00" font-size="8.2" font-weight="bold" text-anchor="middle" fill="#1a1a1a">100</text>
<line x1="573.80" y1="462.50" x2="669.80" y2="487.60" stroke="#222" stroke-width="1"/>
<circle cx="662.80" cy="463.20" r="2.4" fill="#d6d6d6" stroke="#1e1e1e" stroke-width="0.9"/>
<circle cx="652.60" cy="482.00" r="2.4" fill="#d6d6d6" stroke="#1e1e1e" stroke-width="0.9"/>
<circle cx="656.80" cy="479.70" r="2.4" fill="#d6d6d6" stroke="#1e1e1e" stroke-width="0.9"/>
<circle cx="661.00" cy="482.00" r="2.4" fill="#d6d6d6" stroke="#1e1e1e" stroke-width="0.9"/>
<circle cx="662.80" cy="491.30" r="2.4" fill="#d6d6d6" stroke="#1e1e1e" stroke-width="0.9"/>
<circle cx="667.50" cy="490.40" r="2.4" fill="#d6d6d6" stroke="#1e1e1e" stroke-width="0.9"/>
<circle cx="668.90" cy="495.10" r="2.4" fill="#d6d6d6" stroke="#1e1e1e" stroke-width="0.9"/>
<circle cx="674.70" cy="489.00" r="2.4" fill="#d6d6d6" stroke="#1e1e1e" stroke-width="0.9"/>
<circle cx="662.40" cy="499.30" r="2.4" fill="#d6d6d6" stroke="#1e1e1e" stroke-width="0.9"/>
<circle cx="666.30" cy="498.60" r="2.4" fill="#d6d6d6" stroke="#1e1e1e" stroke-width="0.9"/>
<circle cx="576.90" cy="463.30" r="2.5" fill="#333" stroke="#111" stroke-width="0.9"/>
<circle cx="573.40" cy="474.80" r="2.5" fill="#333" stroke="#111" stroke-width="0.9"/>
<circle cx="593.00" cy="466.00" r="2.5" fill="#333" stroke="#111" stroke-width="0.9"/>
<circle cx="601.40" cy="465.70" r="2.5" fill="#333" stroke="#111" stroke-width="0.9"/>
<circle cx="613.50" cy="465.70" r="2.5" fill="#333" stroke="#111" stroke-width="0.9"/>
<circle cx="615.50" cy="477.50" r="2.5" fill="#333" stroke="#111" stroke-width="0.9"/>
<circle cx="631.00" cy="479.20" r="2.5" fill="#333" stroke="#111" stroke-width="0.9"/>
<circle cx="636.20" cy="460.40" r="2.5" fill="#333" stroke="#111" stroke-width="0.9"/>
<text x="553.57" y="505.90" font-size="11.57" fill="#161616" textLength="100.57" lengthAdjust="spacingAndGlyphs"><tspan font-weight="normal" font-style="normal">R&#160;=&#160;</tspan><tspan font-weight="bold" font-style="normal">-</tspan><tspan font-weight="normal" font-style="normal">&#160;0.709;&#160;</tspan><tspan font-weight="normal" font-style="italic">p</tspan><tspan font-weight="normal" font-style="normal">&#160;&lt;&#160;0.001</tspan></text>
<text x="546.40" y="530.50" font-size="9.60" fill="#111" textLength="136.93" lengthAdjust="spacingAndGlyphs"><tspan font-weight="bold" font-style="italic">In&#160;vitro</tspan><tspan font-weight="normal" font-style="normal" stroke="#111" stroke-width="0.3">&#160;%&#160;viable&#160;CD27+&#160;B&#160;cells</tspan></text>
</svg>
</body></html>
